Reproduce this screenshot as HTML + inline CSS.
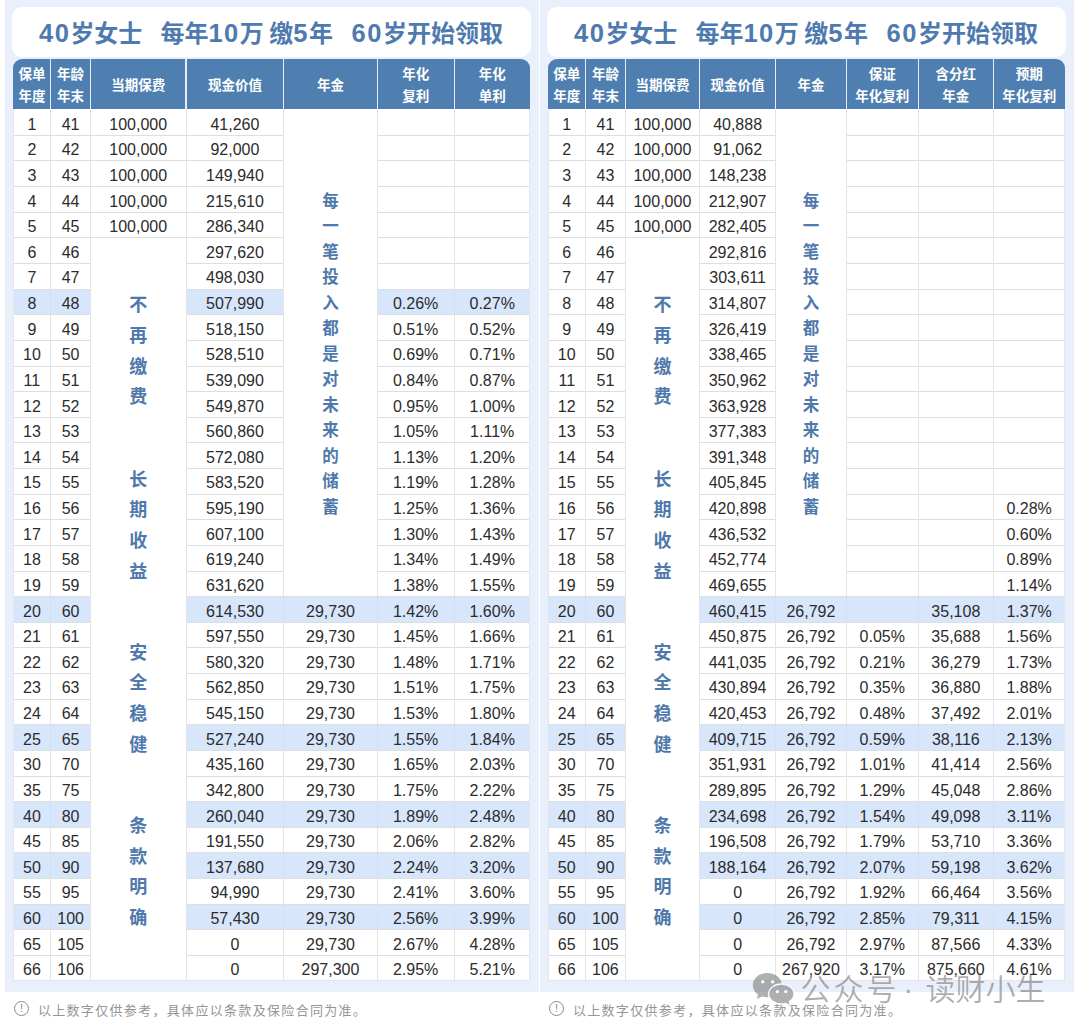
<!DOCTYPE html>
<html lang="zh-CN"><head><meta charset="utf-8"><title>40岁女士 每年10万 缴5年 60岁开始领取</title>
<style>
*{margin:0;padding:0;box-sizing:border-box}
html,body{width:1080px;height:1034px;overflow:hidden;background:#fff}
body{position:relative;font-family:"Liberation Sans","Noto Sans CJK SC",sans-serif;color:#2c2c2c}
.r{position:absolute}
.c{position:absolute;text-align:center;font-size:16px;white-space:nowrap;color:#2c2c2c}
.h{position:absolute;display:flex;align-items:center;justify-content:center;text-align:center;color:#fff;font-weight:700;font-size:13.5px;line-height:22px;padding-top:4.4px;font-family:"Liberation Sans","Noto Sans CJK SC",sans-serif}
.v{position:absolute;text-align:center;color:#4F78AB;font-weight:700;font-family:"Noto Sans CJK SC",sans-serif}
.t{position:absolute;color:#4E7AAF;font-weight:700;font-size:25.5px;line-height:36px;white-space:nowrap}
.t .d{letter-spacing:0.06em}
.t .k{font-size:24px;font-family:"Noto Sans CJK SC",sans-serif}
.fn{position:absolute;font-size:13px;letter-spacing:1.32px;line-height:20px;color:#959595;font-weight:400;white-space:nowrap}
.ic{position:absolute;width:15px;height:15px;border:1.2px solid #8a8a8a;border-radius:50%;font-size:11px;line-height:13px;text-align:center;color:#8a8a8a}
.wm{position:absolute}
.wt{position:absolute;font-size:30px;line-height:36px;color:rgba(120,120,120,0.6);font-family:"Noto Sans CJK SC",sans-serif;font-weight:350;white-space:nowrap}
</style></head>
<body>
<div class="r" style="left:5px;top:0px;width:534px;height:992px;background:#E9F0FC;"></div>
<div class="r" style="left:540px;top:0px;width:533.5px;height:992px;background:#E9F0FC;"></div>
<div class="r" style="left:12px;top:7px;width:519px;height:50px;background:#fff;border-radius:10px"></div>
<div class="t" style="left:38.95px;top:14px"><span class="d">40</span><span class="k">岁女士</span></div>
<div class="t" style="left:160.4px;top:14px"><span class="k">每年</span><span class="d">10</span><span class="k">万</span></div>
<div class="t" style="left:269.2px;top:14px"><span class="k">缴</span><span class="d">5</span><span class="k">年</span></div>
<div class="t" style="left:351.6px;top:14px"><span class="d">60</span><span class="k">岁开始领取</span></div>
<div class="r" style="left:547px;top:7px;width:519px;height:50px;background:#fff;border-radius:10px"></div>
<div class="t" style="left:573.95px;top:14px"><span class="d">40</span><span class="k">岁女士</span></div>
<div class="t" style="left:695.4px;top:14px"><span class="k">每年</span><span class="d">10</span><span class="k">万</span></div>
<div class="t" style="left:804.2px;top:14px"><span class="k">缴</span><span class="d">5</span><span class="k">年</span></div>
<div class="t" style="left:886.6px;top:14px"><span class="d">60</span><span class="k">岁开始领取</span></div>
<div class="r" style="left:13px;top:108.8px;width:517.2px;height:872.27px;background:#fff;"></div>
<div class="r" style="left:13px;top:59px;width:517.2px;height:49.8px;background:#4F7FB0;border-radius:9px 9px 0 0"></div>
<div class="h" style="left:13px;top:59px;width:37.8px;height:49.8px">保单<br>年度</div>
<div class="h" style="left:50.8px;top:59px;width:39.6px;height:49.8px">年龄<br>年末</div>
<div class="h" style="left:90.4px;top:59px;width:95.6px;height:49.8px">当期保费</div>
<div class="h" style="left:186px;top:59px;width:97.9px;height:49.8px">现金价值</div>
<div class="h" style="left:283.9px;top:59px;width:93.2px;height:49.8px">年金</div>
<div class="h" style="left:377.1px;top:59px;width:77.1px;height:49.8px">年化<br>复利</div>
<div class="h" style="left:454.2px;top:59px;width:76px;height:49.8px">年化<br>单利</div>
<div class="r" style="left:50.2px;top:59px;width:1.2px;height:49.8px;background:#E4ECF6;"></div>
<div class="r" style="left:89.8px;top:59px;width:1.2px;height:49.8px;background:#E4ECF6;"></div>
<div class="r" style="left:185.4px;top:59px;width:1.2px;height:49.8px;background:#E4ECF6;"></div>
<div class="r" style="left:283.3px;top:59px;width:1.2px;height:49.8px;background:#E4ECF6;"></div>
<div class="r" style="left:376.5px;top:59px;width:1.2px;height:49.8px;background:#E4ECF6;"></div>
<div class="r" style="left:453.6px;top:59px;width:1.2px;height:49.8px;background:#E4ECF6;"></div>
<div class="r" style="left:13px;top:134.85px;width:37.8px;height:1px;background:#DEDEDE;"></div>
<div class="r" style="left:50.8px;top:134.85px;width:39.6px;height:1px;background:#DEDEDE;"></div>
<div class="r" style="left:90.4px;top:134.85px;width:95.6px;height:1px;background:#DEDEDE;"></div>
<div class="r" style="left:186px;top:134.85px;width:97.9px;height:1px;background:#DEDEDE;"></div>
<div class="r" style="left:377.1px;top:134.85px;width:77.1px;height:1px;background:#DEDEDE;"></div>
<div class="r" style="left:454.2px;top:134.85px;width:76px;height:1px;background:#DEDEDE;"></div>
<div class="r" style="left:13px;top:160.48px;width:37.8px;height:1px;background:#DEDEDE;"></div>
<div class="r" style="left:50.8px;top:160.48px;width:39.6px;height:1px;background:#DEDEDE;"></div>
<div class="r" style="left:90.4px;top:160.48px;width:95.6px;height:1px;background:#DEDEDE;"></div>
<div class="r" style="left:186px;top:160.48px;width:97.9px;height:1px;background:#DEDEDE;"></div>
<div class="r" style="left:377.1px;top:160.48px;width:77.1px;height:1px;background:#DEDEDE;"></div>
<div class="r" style="left:454.2px;top:160.48px;width:76px;height:1px;background:#DEDEDE;"></div>
<div class="r" style="left:13px;top:186.1px;width:37.8px;height:1px;background:#DEDEDE;"></div>
<div class="r" style="left:50.8px;top:186.1px;width:39.6px;height:1px;background:#DEDEDE;"></div>
<div class="r" style="left:90.4px;top:186.1px;width:95.6px;height:1px;background:#DEDEDE;"></div>
<div class="r" style="left:186px;top:186.1px;width:97.9px;height:1px;background:#DEDEDE;"></div>
<div class="r" style="left:377.1px;top:186.1px;width:77.1px;height:1px;background:#DEDEDE;"></div>
<div class="r" style="left:454.2px;top:186.1px;width:76px;height:1px;background:#DEDEDE;"></div>
<div class="r" style="left:13px;top:211.73px;width:37.8px;height:1px;background:#DEDEDE;"></div>
<div class="r" style="left:50.8px;top:211.73px;width:39.6px;height:1px;background:#DEDEDE;"></div>
<div class="r" style="left:90.4px;top:211.73px;width:95.6px;height:1px;background:#DEDEDE;"></div>
<div class="r" style="left:186px;top:211.73px;width:97.9px;height:1px;background:#DEDEDE;"></div>
<div class="r" style="left:377.1px;top:211.73px;width:77.1px;height:1px;background:#DEDEDE;"></div>
<div class="r" style="left:454.2px;top:211.73px;width:76px;height:1px;background:#DEDEDE;"></div>
<div class="r" style="left:13px;top:237.36px;width:37.8px;height:1px;background:#DEDEDE;"></div>
<div class="r" style="left:50.8px;top:237.36px;width:39.6px;height:1px;background:#DEDEDE;"></div>
<div class="r" style="left:90.4px;top:237.36px;width:95.6px;height:1px;background:#DEDEDE;"></div>
<div class="r" style="left:186px;top:237.36px;width:97.9px;height:1px;background:#DEDEDE;"></div>
<div class="r" style="left:377.1px;top:237.36px;width:77.1px;height:1px;background:#DEDEDE;"></div>
<div class="r" style="left:454.2px;top:237.36px;width:76px;height:1px;background:#DEDEDE;"></div>
<div class="r" style="left:13px;top:262.99px;width:37.8px;height:1px;background:#DEDEDE;"></div>
<div class="r" style="left:50.8px;top:262.99px;width:39.6px;height:1px;background:#DEDEDE;"></div>
<div class="r" style="left:186px;top:262.99px;width:97.9px;height:1px;background:#DEDEDE;"></div>
<div class="r" style="left:377.1px;top:262.99px;width:77.1px;height:1px;background:#DEDEDE;"></div>
<div class="r" style="left:454.2px;top:262.99px;width:76px;height:1px;background:#DEDEDE;"></div>
<div class="r" style="left:13px;top:288.62px;width:37.8px;height:1px;background:#DEDEDE;"></div>
<div class="r" style="left:50.8px;top:288.62px;width:39.6px;height:1px;background:#DEDEDE;"></div>
<div class="r" style="left:186px;top:288.62px;width:97.9px;height:1px;background:#DEDEDE;"></div>
<div class="r" style="left:377.1px;top:288.62px;width:77.1px;height:1px;background:#DEDEDE;"></div>
<div class="r" style="left:454.2px;top:288.62px;width:76px;height:1px;background:#DEDEDE;"></div>
<div class="r" style="left:13px;top:314.24px;width:37.8px;height:1px;background:#DEDEDE;"></div>
<div class="r" style="left:50.8px;top:314.24px;width:39.6px;height:1px;background:#DEDEDE;"></div>
<div class="r" style="left:186px;top:314.24px;width:97.9px;height:1px;background:#DEDEDE;"></div>
<div class="r" style="left:377.1px;top:314.24px;width:77.1px;height:1px;background:#DEDEDE;"></div>
<div class="r" style="left:454.2px;top:314.24px;width:76px;height:1px;background:#DEDEDE;"></div>
<div class="r" style="left:13px;top:339.87px;width:37.8px;height:1px;background:#DEDEDE;"></div>
<div class="r" style="left:50.8px;top:339.87px;width:39.6px;height:1px;background:#DEDEDE;"></div>
<div class="r" style="left:186px;top:339.87px;width:97.9px;height:1px;background:#DEDEDE;"></div>
<div class="r" style="left:377.1px;top:339.87px;width:77.1px;height:1px;background:#DEDEDE;"></div>
<div class="r" style="left:454.2px;top:339.87px;width:76px;height:1px;background:#DEDEDE;"></div>
<div class="r" style="left:13px;top:365.5px;width:37.8px;height:1px;background:#DEDEDE;"></div>
<div class="r" style="left:50.8px;top:365.5px;width:39.6px;height:1px;background:#DEDEDE;"></div>
<div class="r" style="left:186px;top:365.5px;width:97.9px;height:1px;background:#DEDEDE;"></div>
<div class="r" style="left:377.1px;top:365.5px;width:77.1px;height:1px;background:#DEDEDE;"></div>
<div class="r" style="left:454.2px;top:365.5px;width:76px;height:1px;background:#DEDEDE;"></div>
<div class="r" style="left:13px;top:391.13px;width:37.8px;height:1px;background:#DEDEDE;"></div>
<div class="r" style="left:50.8px;top:391.13px;width:39.6px;height:1px;background:#DEDEDE;"></div>
<div class="r" style="left:186px;top:391.13px;width:97.9px;height:1px;background:#DEDEDE;"></div>
<div class="r" style="left:377.1px;top:391.13px;width:77.1px;height:1px;background:#DEDEDE;"></div>
<div class="r" style="left:454.2px;top:391.13px;width:76px;height:1px;background:#DEDEDE;"></div>
<div class="r" style="left:13px;top:416.76px;width:37.8px;height:1px;background:#DEDEDE;"></div>
<div class="r" style="left:50.8px;top:416.76px;width:39.6px;height:1px;background:#DEDEDE;"></div>
<div class="r" style="left:186px;top:416.76px;width:97.9px;height:1px;background:#DEDEDE;"></div>
<div class="r" style="left:377.1px;top:416.76px;width:77.1px;height:1px;background:#DEDEDE;"></div>
<div class="r" style="left:454.2px;top:416.76px;width:76px;height:1px;background:#DEDEDE;"></div>
<div class="r" style="left:13px;top:442.38px;width:37.8px;height:1px;background:#DEDEDE;"></div>
<div class="r" style="left:50.8px;top:442.38px;width:39.6px;height:1px;background:#DEDEDE;"></div>
<div class="r" style="left:186px;top:442.38px;width:97.9px;height:1px;background:#DEDEDE;"></div>
<div class="r" style="left:377.1px;top:442.38px;width:77.1px;height:1px;background:#DEDEDE;"></div>
<div class="r" style="left:454.2px;top:442.38px;width:76px;height:1px;background:#DEDEDE;"></div>
<div class="r" style="left:13px;top:468.01px;width:37.8px;height:1px;background:#DEDEDE;"></div>
<div class="r" style="left:50.8px;top:468.01px;width:39.6px;height:1px;background:#DEDEDE;"></div>
<div class="r" style="left:186px;top:468.01px;width:97.9px;height:1px;background:#DEDEDE;"></div>
<div class="r" style="left:377.1px;top:468.01px;width:77.1px;height:1px;background:#DEDEDE;"></div>
<div class="r" style="left:454.2px;top:468.01px;width:76px;height:1px;background:#DEDEDE;"></div>
<div class="r" style="left:13px;top:493.64px;width:37.8px;height:1px;background:#DEDEDE;"></div>
<div class="r" style="left:50.8px;top:493.64px;width:39.6px;height:1px;background:#DEDEDE;"></div>
<div class="r" style="left:186px;top:493.64px;width:97.9px;height:1px;background:#DEDEDE;"></div>
<div class="r" style="left:377.1px;top:493.64px;width:77.1px;height:1px;background:#DEDEDE;"></div>
<div class="r" style="left:454.2px;top:493.64px;width:76px;height:1px;background:#DEDEDE;"></div>
<div class="r" style="left:13px;top:519.27px;width:37.8px;height:1px;background:#DEDEDE;"></div>
<div class="r" style="left:50.8px;top:519.27px;width:39.6px;height:1px;background:#DEDEDE;"></div>
<div class="r" style="left:186px;top:519.27px;width:97.9px;height:1px;background:#DEDEDE;"></div>
<div class="r" style="left:377.1px;top:519.27px;width:77.1px;height:1px;background:#DEDEDE;"></div>
<div class="r" style="left:454.2px;top:519.27px;width:76px;height:1px;background:#DEDEDE;"></div>
<div class="r" style="left:13px;top:544.9px;width:37.8px;height:1px;background:#DEDEDE;"></div>
<div class="r" style="left:50.8px;top:544.9px;width:39.6px;height:1px;background:#DEDEDE;"></div>
<div class="r" style="left:186px;top:544.9px;width:97.9px;height:1px;background:#DEDEDE;"></div>
<div class="r" style="left:377.1px;top:544.9px;width:77.1px;height:1px;background:#DEDEDE;"></div>
<div class="r" style="left:454.2px;top:544.9px;width:76px;height:1px;background:#DEDEDE;"></div>
<div class="r" style="left:13px;top:570.52px;width:37.8px;height:1px;background:#DEDEDE;"></div>
<div class="r" style="left:50.8px;top:570.52px;width:39.6px;height:1px;background:#DEDEDE;"></div>
<div class="r" style="left:186px;top:570.52px;width:97.9px;height:1px;background:#DEDEDE;"></div>
<div class="r" style="left:377.1px;top:570.52px;width:77.1px;height:1px;background:#DEDEDE;"></div>
<div class="r" style="left:454.2px;top:570.52px;width:76px;height:1px;background:#DEDEDE;"></div>
<div class="r" style="left:13px;top:596.15px;width:37.8px;height:1px;background:#DEDEDE;"></div>
<div class="r" style="left:50.8px;top:596.15px;width:39.6px;height:1px;background:#DEDEDE;"></div>
<div class="r" style="left:186px;top:596.15px;width:97.9px;height:1px;background:#DEDEDE;"></div>
<div class="r" style="left:283.9px;top:596.15px;width:93.2px;height:1px;background:#DEDEDE;"></div>
<div class="r" style="left:377.1px;top:596.15px;width:77.1px;height:1px;background:#DEDEDE;"></div>
<div class="r" style="left:454.2px;top:596.15px;width:76px;height:1px;background:#DEDEDE;"></div>
<div class="r" style="left:13px;top:621.78px;width:37.8px;height:1px;background:#DEDEDE;"></div>
<div class="r" style="left:50.8px;top:621.78px;width:39.6px;height:1px;background:#DEDEDE;"></div>
<div class="r" style="left:186px;top:621.78px;width:97.9px;height:1px;background:#DEDEDE;"></div>
<div class="r" style="left:283.9px;top:621.78px;width:93.2px;height:1px;background:#DEDEDE;"></div>
<div class="r" style="left:377.1px;top:621.78px;width:77.1px;height:1px;background:#DEDEDE;"></div>
<div class="r" style="left:454.2px;top:621.78px;width:76px;height:1px;background:#DEDEDE;"></div>
<div class="r" style="left:13px;top:647.41px;width:37.8px;height:1px;background:#DEDEDE;"></div>
<div class="r" style="left:50.8px;top:647.41px;width:39.6px;height:1px;background:#DEDEDE;"></div>
<div class="r" style="left:186px;top:647.41px;width:97.9px;height:1px;background:#DEDEDE;"></div>
<div class="r" style="left:283.9px;top:647.41px;width:93.2px;height:1px;background:#DEDEDE;"></div>
<div class="r" style="left:377.1px;top:647.41px;width:77.1px;height:1px;background:#DEDEDE;"></div>
<div class="r" style="left:454.2px;top:647.41px;width:76px;height:1px;background:#DEDEDE;"></div>
<div class="r" style="left:13px;top:673.04px;width:37.8px;height:1px;background:#DEDEDE;"></div>
<div class="r" style="left:50.8px;top:673.04px;width:39.6px;height:1px;background:#DEDEDE;"></div>
<div class="r" style="left:186px;top:673.04px;width:97.9px;height:1px;background:#DEDEDE;"></div>
<div class="r" style="left:283.9px;top:673.04px;width:93.2px;height:1px;background:#DEDEDE;"></div>
<div class="r" style="left:377.1px;top:673.04px;width:77.1px;height:1px;background:#DEDEDE;"></div>
<div class="r" style="left:454.2px;top:673.04px;width:76px;height:1px;background:#DEDEDE;"></div>
<div class="r" style="left:13px;top:698.66px;width:37.8px;height:1px;background:#DEDEDE;"></div>
<div class="r" style="left:50.8px;top:698.66px;width:39.6px;height:1px;background:#DEDEDE;"></div>
<div class="r" style="left:186px;top:698.66px;width:97.9px;height:1px;background:#DEDEDE;"></div>
<div class="r" style="left:283.9px;top:698.66px;width:93.2px;height:1px;background:#DEDEDE;"></div>
<div class="r" style="left:377.1px;top:698.66px;width:77.1px;height:1px;background:#DEDEDE;"></div>
<div class="r" style="left:454.2px;top:698.66px;width:76px;height:1px;background:#DEDEDE;"></div>
<div class="r" style="left:13px;top:724.29px;width:37.8px;height:1px;background:#DEDEDE;"></div>
<div class="r" style="left:50.8px;top:724.29px;width:39.6px;height:1px;background:#DEDEDE;"></div>
<div class="r" style="left:186px;top:724.29px;width:97.9px;height:1px;background:#DEDEDE;"></div>
<div class="r" style="left:283.9px;top:724.29px;width:93.2px;height:1px;background:#DEDEDE;"></div>
<div class="r" style="left:377.1px;top:724.29px;width:77.1px;height:1px;background:#DEDEDE;"></div>
<div class="r" style="left:454.2px;top:724.29px;width:76px;height:1px;background:#DEDEDE;"></div>
<div class="r" style="left:13px;top:749.92px;width:37.8px;height:1px;background:#DEDEDE;"></div>
<div class="r" style="left:50.8px;top:749.92px;width:39.6px;height:1px;background:#DEDEDE;"></div>
<div class="r" style="left:186px;top:749.92px;width:97.9px;height:1px;background:#DEDEDE;"></div>
<div class="r" style="left:283.9px;top:749.92px;width:93.2px;height:1px;background:#DEDEDE;"></div>
<div class="r" style="left:377.1px;top:749.92px;width:77.1px;height:1px;background:#DEDEDE;"></div>
<div class="r" style="left:454.2px;top:749.92px;width:76px;height:1px;background:#DEDEDE;"></div>
<div class="r" style="left:13px;top:775.55px;width:37.8px;height:1px;background:#DEDEDE;"></div>
<div class="r" style="left:50.8px;top:775.55px;width:39.6px;height:1px;background:#DEDEDE;"></div>
<div class="r" style="left:186px;top:775.55px;width:97.9px;height:1px;background:#DEDEDE;"></div>
<div class="r" style="left:283.9px;top:775.55px;width:93.2px;height:1px;background:#DEDEDE;"></div>
<div class="r" style="left:377.1px;top:775.55px;width:77.1px;height:1px;background:#DEDEDE;"></div>
<div class="r" style="left:454.2px;top:775.55px;width:76px;height:1px;background:#DEDEDE;"></div>
<div class="r" style="left:13px;top:801.18px;width:37.8px;height:1px;background:#DEDEDE;"></div>
<div class="r" style="left:50.8px;top:801.18px;width:39.6px;height:1px;background:#DEDEDE;"></div>
<div class="r" style="left:186px;top:801.18px;width:97.9px;height:1px;background:#DEDEDE;"></div>
<div class="r" style="left:283.9px;top:801.18px;width:93.2px;height:1px;background:#DEDEDE;"></div>
<div class="r" style="left:377.1px;top:801.18px;width:77.1px;height:1px;background:#DEDEDE;"></div>
<div class="r" style="left:454.2px;top:801.18px;width:76px;height:1px;background:#DEDEDE;"></div>
<div class="r" style="left:13px;top:826.8px;width:37.8px;height:1px;background:#DEDEDE;"></div>
<div class="r" style="left:50.8px;top:826.8px;width:39.6px;height:1px;background:#DEDEDE;"></div>
<div class="r" style="left:186px;top:826.8px;width:97.9px;height:1px;background:#DEDEDE;"></div>
<div class="r" style="left:283.9px;top:826.8px;width:93.2px;height:1px;background:#DEDEDE;"></div>
<div class="r" style="left:377.1px;top:826.8px;width:77.1px;height:1px;background:#DEDEDE;"></div>
<div class="r" style="left:454.2px;top:826.8px;width:76px;height:1px;background:#DEDEDE;"></div>
<div class="r" style="left:13px;top:852.43px;width:37.8px;height:1px;background:#DEDEDE;"></div>
<div class="r" style="left:50.8px;top:852.43px;width:39.6px;height:1px;background:#DEDEDE;"></div>
<div class="r" style="left:186px;top:852.43px;width:97.9px;height:1px;background:#DEDEDE;"></div>
<div class="r" style="left:283.9px;top:852.43px;width:93.2px;height:1px;background:#DEDEDE;"></div>
<div class="r" style="left:377.1px;top:852.43px;width:77.1px;height:1px;background:#DEDEDE;"></div>
<div class="r" style="left:454.2px;top:852.43px;width:76px;height:1px;background:#DEDEDE;"></div>
<div class="r" style="left:13px;top:878.06px;width:37.8px;height:1px;background:#DEDEDE;"></div>
<div class="r" style="left:50.8px;top:878.06px;width:39.6px;height:1px;background:#DEDEDE;"></div>
<div class="r" style="left:186px;top:878.06px;width:97.9px;height:1px;background:#DEDEDE;"></div>
<div class="r" style="left:283.9px;top:878.06px;width:93.2px;height:1px;background:#DEDEDE;"></div>
<div class="r" style="left:377.1px;top:878.06px;width:77.1px;height:1px;background:#DEDEDE;"></div>
<div class="r" style="left:454.2px;top:878.06px;width:76px;height:1px;background:#DEDEDE;"></div>
<div class="r" style="left:13px;top:903.69px;width:37.8px;height:1px;background:#DEDEDE;"></div>
<div class="r" style="left:50.8px;top:903.69px;width:39.6px;height:1px;background:#DEDEDE;"></div>
<div class="r" style="left:186px;top:903.69px;width:97.9px;height:1px;background:#DEDEDE;"></div>
<div class="r" style="left:283.9px;top:903.69px;width:93.2px;height:1px;background:#DEDEDE;"></div>
<div class="r" style="left:377.1px;top:903.69px;width:77.1px;height:1px;background:#DEDEDE;"></div>
<div class="r" style="left:454.2px;top:903.69px;width:76px;height:1px;background:#DEDEDE;"></div>
<div class="r" style="left:13px;top:929.32px;width:37.8px;height:1px;background:#DEDEDE;"></div>
<div class="r" style="left:50.8px;top:929.32px;width:39.6px;height:1px;background:#DEDEDE;"></div>
<div class="r" style="left:186px;top:929.32px;width:97.9px;height:1px;background:#DEDEDE;"></div>
<div class="r" style="left:283.9px;top:929.32px;width:93.2px;height:1px;background:#DEDEDE;"></div>
<div class="r" style="left:377.1px;top:929.32px;width:77.1px;height:1px;background:#DEDEDE;"></div>
<div class="r" style="left:454.2px;top:929.32px;width:76px;height:1px;background:#DEDEDE;"></div>
<div class="r" style="left:13px;top:954.94px;width:37.8px;height:1px;background:#DEDEDE;"></div>
<div class="r" style="left:50.8px;top:954.94px;width:39.6px;height:1px;background:#DEDEDE;"></div>
<div class="r" style="left:186px;top:954.94px;width:97.9px;height:1px;background:#DEDEDE;"></div>
<div class="r" style="left:283.9px;top:954.94px;width:93.2px;height:1px;background:#DEDEDE;"></div>
<div class="r" style="left:377.1px;top:954.94px;width:77.1px;height:1px;background:#DEDEDE;"></div>
<div class="r" style="left:454.2px;top:954.94px;width:76px;height:1px;background:#DEDEDE;"></div>
<div class="r" style="left:50.3px;top:108.8px;width:1px;height:872.27px;background:#E4E4E4;"></div>
<div class="r" style="left:89.9px;top:108.8px;width:1px;height:872.27px;background:#E4E4E4;"></div>
<div class="r" style="left:185.5px;top:108.8px;width:1px;height:872.27px;background:#E4E4E4;"></div>
<div class="r" style="left:283.4px;top:108.8px;width:1px;height:872.27px;background:#E4E4E4;"></div>
<div class="r" style="left:376.6px;top:108.8px;width:1px;height:872.27px;background:#E4E4E4;"></div>
<div class="r" style="left:453.7px;top:108.8px;width:1px;height:872.27px;background:#E4E4E4;"></div>
<div class="r" style="left:14px;top:289.62px;width:75.9px;height:24.63px;background:#D7E6FB;"></div>
<div class="r" style="left:50.3px;top:289.62px;width:1px;height:24.63px;background:#D3E1F5;"></div>
<div class="r" style="left:186.5px;top:289.62px;width:96.9px;height:24.63px;background:#D7E6FB;"></div>
<div class="r" style="left:377.6px;top:289.62px;width:151.6px;height:24.63px;background:#D7E6FB;"></div>
<div class="r" style="left:453.7px;top:289.62px;width:1px;height:24.63px;background:#D3E1F5;"></div>
<div class="r" style="left:14px;top:597.15px;width:75.9px;height:24.63px;background:#D7E6FB;"></div>
<div class="r" style="left:50.3px;top:597.15px;width:1px;height:24.63px;background:#D3E1F5;"></div>
<div class="r" style="left:186.5px;top:597.15px;width:342.7px;height:24.63px;background:#D7E6FB;"></div>
<div class="r" style="left:283.4px;top:597.15px;width:1px;height:24.63px;background:#D3E1F5;"></div>
<div class="r" style="left:376.6px;top:597.15px;width:1px;height:24.63px;background:#D3E1F5;"></div>
<div class="r" style="left:453.7px;top:597.15px;width:1px;height:24.63px;background:#D3E1F5;"></div>
<div class="r" style="left:14px;top:725.29px;width:75.9px;height:24.63px;background:#D7E6FB;"></div>
<div class="r" style="left:50.3px;top:725.29px;width:1px;height:24.63px;background:#D3E1F5;"></div>
<div class="r" style="left:186.5px;top:725.29px;width:342.7px;height:24.63px;background:#D7E6FB;"></div>
<div class="r" style="left:283.4px;top:725.29px;width:1px;height:24.63px;background:#D3E1F5;"></div>
<div class="r" style="left:376.6px;top:725.29px;width:1px;height:24.63px;background:#D3E1F5;"></div>
<div class="r" style="left:453.7px;top:725.29px;width:1px;height:24.63px;background:#D3E1F5;"></div>
<div class="r" style="left:14px;top:802.18px;width:75.9px;height:24.63px;background:#D7E6FB;"></div>
<div class="r" style="left:50.3px;top:802.18px;width:1px;height:24.63px;background:#D3E1F5;"></div>
<div class="r" style="left:186.5px;top:802.18px;width:342.7px;height:24.63px;background:#D7E6FB;"></div>
<div class="r" style="left:283.4px;top:802.18px;width:1px;height:24.63px;background:#D3E1F5;"></div>
<div class="r" style="left:376.6px;top:802.18px;width:1px;height:24.63px;background:#D3E1F5;"></div>
<div class="r" style="left:453.7px;top:802.18px;width:1px;height:24.63px;background:#D3E1F5;"></div>
<div class="r" style="left:14px;top:853.43px;width:75.9px;height:24.63px;background:#D7E6FB;"></div>
<div class="r" style="left:50.3px;top:853.43px;width:1px;height:24.63px;background:#D3E1F5;"></div>
<div class="r" style="left:186.5px;top:853.43px;width:342.7px;height:24.63px;background:#D7E6FB;"></div>
<div class="r" style="left:283.4px;top:853.43px;width:1px;height:24.63px;background:#D3E1F5;"></div>
<div class="r" style="left:376.6px;top:853.43px;width:1px;height:24.63px;background:#D3E1F5;"></div>
<div class="r" style="left:453.7px;top:853.43px;width:1px;height:24.63px;background:#D3E1F5;"></div>
<div class="r" style="left:14px;top:904.69px;width:75.9px;height:24.63px;background:#D7E6FB;"></div>
<div class="r" style="left:50.3px;top:904.69px;width:1px;height:24.63px;background:#D3E1F5;"></div>
<div class="r" style="left:186.5px;top:904.69px;width:342.7px;height:24.63px;background:#D7E6FB;"></div>
<div class="r" style="left:283.4px;top:904.69px;width:1px;height:24.63px;background:#D3E1F5;"></div>
<div class="r" style="left:376.6px;top:904.69px;width:1px;height:24.63px;background:#D3E1F5;"></div>
<div class="r" style="left:453.7px;top:904.69px;width:1px;height:24.63px;background:#D3E1F5;"></div>
<div class="r" style="left:13px;top:108.8px;width:1px;height:872.27px;background:#E2E5EA;"></div>
<div class="r" style="left:529.2px;top:108.8px;width:1px;height:872.27px;background:#E2E5EA;"></div>
<div class="r" style="left:13px;top:980.37px;width:517.2px;height:1px;background:#E2E5EA;"></div>
<div class="c" style="left:13px;top:111.62px;width:37.8px;height:25.67px;line-height:25.67px">1</div>
<div class="c" style="left:50.8px;top:111.62px;width:39.6px;height:25.67px;line-height:25.67px">41</div>
<div class="c" style="left:90.4px;top:111.62px;width:95.6px;height:25.67px;line-height:25.67px">100,000</div>
<div class="c" style="left:186px;top:111.62px;width:97.9px;height:25.67px;line-height:25.67px">41,260</div>
<div class="c" style="left:13px;top:137.25px;width:37.8px;height:25.67px;line-height:25.67px">2</div>
<div class="c" style="left:50.8px;top:137.25px;width:39.6px;height:25.67px;line-height:25.67px">42</div>
<div class="c" style="left:90.4px;top:137.25px;width:95.6px;height:25.67px;line-height:25.67px">100,000</div>
<div class="c" style="left:186px;top:137.25px;width:97.9px;height:25.67px;line-height:25.67px">92,000</div>
<div class="c" style="left:13px;top:162.88px;width:37.8px;height:25.67px;line-height:25.67px">3</div>
<div class="c" style="left:50.8px;top:162.88px;width:39.6px;height:25.67px;line-height:25.67px">43</div>
<div class="c" style="left:90.4px;top:162.88px;width:95.6px;height:25.67px;line-height:25.67px">100,000</div>
<div class="c" style="left:186px;top:162.88px;width:97.9px;height:25.67px;line-height:25.67px">149,940</div>
<div class="c" style="left:13px;top:188.5px;width:37.8px;height:25.67px;line-height:25.67px">4</div>
<div class="c" style="left:50.8px;top:188.5px;width:39.6px;height:25.67px;line-height:25.67px">44</div>
<div class="c" style="left:90.4px;top:188.5px;width:95.6px;height:25.67px;line-height:25.67px">100,000</div>
<div class="c" style="left:186px;top:188.5px;width:97.9px;height:25.67px;line-height:25.67px">215,610</div>
<div class="c" style="left:13px;top:214.13px;width:37.8px;height:25.67px;line-height:25.67px">5</div>
<div class="c" style="left:50.8px;top:214.13px;width:39.6px;height:25.67px;line-height:25.67px">45</div>
<div class="c" style="left:90.4px;top:214.13px;width:95.6px;height:25.67px;line-height:25.67px">100,000</div>
<div class="c" style="left:186px;top:214.13px;width:97.9px;height:25.67px;line-height:25.67px">286,340</div>
<div class="c" style="left:13px;top:239.76px;width:37.8px;height:25.67px;line-height:25.67px">6</div>
<div class="c" style="left:50.8px;top:239.76px;width:39.6px;height:25.67px;line-height:25.67px">46</div>
<div class="c" style="left:186px;top:239.76px;width:97.9px;height:25.67px;line-height:25.67px">297,620</div>
<div class="c" style="left:13px;top:265.39px;width:37.8px;height:25.67px;line-height:25.67px">7</div>
<div class="c" style="left:50.8px;top:265.39px;width:39.6px;height:25.67px;line-height:25.67px">47</div>
<div class="c" style="left:186px;top:265.39px;width:97.9px;height:25.67px;line-height:25.67px">498,030</div>
<div class="c" style="left:13px;top:291.02px;width:37.8px;height:25.67px;line-height:25.67px">8</div>
<div class="c" style="left:50.8px;top:291.02px;width:39.6px;height:25.67px;line-height:25.67px">48</div>
<div class="c" style="left:186px;top:291.02px;width:97.9px;height:25.67px;line-height:25.67px">507,990</div>
<div class="c" style="left:377.1px;top:291.02px;width:77.1px;height:25.67px;line-height:25.67px">0.26%</div>
<div class="c" style="left:454.2px;top:291.02px;width:76px;height:25.67px;line-height:25.67px">0.27%</div>
<div class="c" style="left:13px;top:316.64px;width:37.8px;height:25.67px;line-height:25.67px">9</div>
<div class="c" style="left:50.8px;top:316.64px;width:39.6px;height:25.67px;line-height:25.67px">49</div>
<div class="c" style="left:186px;top:316.64px;width:97.9px;height:25.67px;line-height:25.67px">518,150</div>
<div class="c" style="left:377.1px;top:316.64px;width:77.1px;height:25.67px;line-height:25.67px">0.51%</div>
<div class="c" style="left:454.2px;top:316.64px;width:76px;height:25.67px;line-height:25.67px">0.52%</div>
<div class="c" style="left:13px;top:342.27px;width:37.8px;height:25.67px;line-height:25.67px">10</div>
<div class="c" style="left:50.8px;top:342.27px;width:39.6px;height:25.67px;line-height:25.67px">50</div>
<div class="c" style="left:186px;top:342.27px;width:97.9px;height:25.67px;line-height:25.67px">528,510</div>
<div class="c" style="left:377.1px;top:342.27px;width:77.1px;height:25.67px;line-height:25.67px">0.69%</div>
<div class="c" style="left:454.2px;top:342.27px;width:76px;height:25.67px;line-height:25.67px">0.71%</div>
<div class="c" style="left:13px;top:367.9px;width:37.8px;height:25.67px;line-height:25.67px">11</div>
<div class="c" style="left:50.8px;top:367.9px;width:39.6px;height:25.67px;line-height:25.67px">51</div>
<div class="c" style="left:186px;top:367.9px;width:97.9px;height:25.67px;line-height:25.67px">539,090</div>
<div class="c" style="left:377.1px;top:367.9px;width:77.1px;height:25.67px;line-height:25.67px">0.84%</div>
<div class="c" style="left:454.2px;top:367.9px;width:76px;height:25.67px;line-height:25.67px">0.87%</div>
<div class="c" style="left:13px;top:393.53px;width:37.8px;height:25.67px;line-height:25.67px">12</div>
<div class="c" style="left:50.8px;top:393.53px;width:39.6px;height:25.67px;line-height:25.67px">52</div>
<div class="c" style="left:186px;top:393.53px;width:97.9px;height:25.67px;line-height:25.67px">549,870</div>
<div class="c" style="left:377.1px;top:393.53px;width:77.1px;height:25.67px;line-height:25.67px">0.95%</div>
<div class="c" style="left:454.2px;top:393.53px;width:76px;height:25.67px;line-height:25.67px">1.00%</div>
<div class="c" style="left:13px;top:419.16px;width:37.8px;height:25.67px;line-height:25.67px">13</div>
<div class="c" style="left:50.8px;top:419.16px;width:39.6px;height:25.67px;line-height:25.67px">53</div>
<div class="c" style="left:186px;top:419.16px;width:97.9px;height:25.67px;line-height:25.67px">560,860</div>
<div class="c" style="left:377.1px;top:419.16px;width:77.1px;height:25.67px;line-height:25.67px">1.05%</div>
<div class="c" style="left:454.2px;top:419.16px;width:76px;height:25.67px;line-height:25.67px">1.11%</div>
<div class="c" style="left:13px;top:444.78px;width:37.8px;height:25.67px;line-height:25.67px">14</div>
<div class="c" style="left:50.8px;top:444.78px;width:39.6px;height:25.67px;line-height:25.67px">54</div>
<div class="c" style="left:186px;top:444.78px;width:97.9px;height:25.67px;line-height:25.67px">572,080</div>
<div class="c" style="left:377.1px;top:444.78px;width:77.1px;height:25.67px;line-height:25.67px">1.13%</div>
<div class="c" style="left:454.2px;top:444.78px;width:76px;height:25.67px;line-height:25.67px">1.20%</div>
<div class="c" style="left:13px;top:470.41px;width:37.8px;height:25.67px;line-height:25.67px">15</div>
<div class="c" style="left:50.8px;top:470.41px;width:39.6px;height:25.67px;line-height:25.67px">55</div>
<div class="c" style="left:186px;top:470.41px;width:97.9px;height:25.67px;line-height:25.67px">583,520</div>
<div class="c" style="left:377.1px;top:470.41px;width:77.1px;height:25.67px;line-height:25.67px">1.19%</div>
<div class="c" style="left:454.2px;top:470.41px;width:76px;height:25.67px;line-height:25.67px">1.28%</div>
<div class="c" style="left:13px;top:496.04px;width:37.8px;height:25.67px;line-height:25.67px">16</div>
<div class="c" style="left:50.8px;top:496.04px;width:39.6px;height:25.67px;line-height:25.67px">56</div>
<div class="c" style="left:186px;top:496.04px;width:97.9px;height:25.67px;line-height:25.67px">595,190</div>
<div class="c" style="left:377.1px;top:496.04px;width:77.1px;height:25.67px;line-height:25.67px">1.25%</div>
<div class="c" style="left:454.2px;top:496.04px;width:76px;height:25.67px;line-height:25.67px">1.36%</div>
<div class="c" style="left:13px;top:521.67px;width:37.8px;height:25.67px;line-height:25.67px">17</div>
<div class="c" style="left:50.8px;top:521.67px;width:39.6px;height:25.67px;line-height:25.67px">57</div>
<div class="c" style="left:186px;top:521.67px;width:97.9px;height:25.67px;line-height:25.67px">607,100</div>
<div class="c" style="left:377.1px;top:521.67px;width:77.1px;height:25.67px;line-height:25.67px">1.30%</div>
<div class="c" style="left:454.2px;top:521.67px;width:76px;height:25.67px;line-height:25.67px">1.43%</div>
<div class="c" style="left:13px;top:547.3px;width:37.8px;height:25.67px;line-height:25.67px">18</div>
<div class="c" style="left:50.8px;top:547.3px;width:39.6px;height:25.67px;line-height:25.67px">58</div>
<div class="c" style="left:186px;top:547.3px;width:97.9px;height:25.67px;line-height:25.67px">619,240</div>
<div class="c" style="left:377.1px;top:547.3px;width:77.1px;height:25.67px;line-height:25.67px">1.34%</div>
<div class="c" style="left:454.2px;top:547.3px;width:76px;height:25.67px;line-height:25.67px">1.49%</div>
<div class="c" style="left:13px;top:572.92px;width:37.8px;height:25.67px;line-height:25.67px">19</div>
<div class="c" style="left:50.8px;top:572.92px;width:39.6px;height:25.67px;line-height:25.67px">59</div>
<div class="c" style="left:186px;top:572.92px;width:97.9px;height:25.67px;line-height:25.67px">631,620</div>
<div class="c" style="left:377.1px;top:572.92px;width:77.1px;height:25.67px;line-height:25.67px">1.38%</div>
<div class="c" style="left:454.2px;top:572.92px;width:76px;height:25.67px;line-height:25.67px">1.55%</div>
<div class="c" style="left:13px;top:598.55px;width:37.8px;height:25.67px;line-height:25.67px">20</div>
<div class="c" style="left:50.8px;top:598.55px;width:39.6px;height:25.67px;line-height:25.67px">60</div>
<div class="c" style="left:186px;top:598.55px;width:97.9px;height:25.67px;line-height:25.67px">614,530</div>
<div class="c" style="left:283.9px;top:598.55px;width:93.2px;height:25.67px;line-height:25.67px">29,730</div>
<div class="c" style="left:377.1px;top:598.55px;width:77.1px;height:25.67px;line-height:25.67px">1.42%</div>
<div class="c" style="left:454.2px;top:598.55px;width:76px;height:25.67px;line-height:25.67px">1.60%</div>
<div class="c" style="left:13px;top:624.18px;width:37.8px;height:25.67px;line-height:25.67px">21</div>
<div class="c" style="left:50.8px;top:624.18px;width:39.6px;height:25.67px;line-height:25.67px">61</div>
<div class="c" style="left:186px;top:624.18px;width:97.9px;height:25.67px;line-height:25.67px">597,550</div>
<div class="c" style="left:283.9px;top:624.18px;width:93.2px;height:25.67px;line-height:25.67px">29,730</div>
<div class="c" style="left:377.1px;top:624.18px;width:77.1px;height:25.67px;line-height:25.67px">1.45%</div>
<div class="c" style="left:454.2px;top:624.18px;width:76px;height:25.67px;line-height:25.67px">1.66%</div>
<div class="c" style="left:13px;top:649.81px;width:37.8px;height:25.67px;line-height:25.67px">22</div>
<div class="c" style="left:50.8px;top:649.81px;width:39.6px;height:25.67px;line-height:25.67px">62</div>
<div class="c" style="left:186px;top:649.81px;width:97.9px;height:25.67px;line-height:25.67px">580,320</div>
<div class="c" style="left:283.9px;top:649.81px;width:93.2px;height:25.67px;line-height:25.67px">29,730</div>
<div class="c" style="left:377.1px;top:649.81px;width:77.1px;height:25.67px;line-height:25.67px">1.48%</div>
<div class="c" style="left:454.2px;top:649.81px;width:76px;height:25.67px;line-height:25.67px">1.71%</div>
<div class="c" style="left:13px;top:675.44px;width:37.8px;height:25.67px;line-height:25.67px">23</div>
<div class="c" style="left:50.8px;top:675.44px;width:39.6px;height:25.67px;line-height:25.67px">63</div>
<div class="c" style="left:186px;top:675.44px;width:97.9px;height:25.67px;line-height:25.67px">562,850</div>
<div class="c" style="left:283.9px;top:675.44px;width:93.2px;height:25.67px;line-height:25.67px">29,730</div>
<div class="c" style="left:377.1px;top:675.44px;width:77.1px;height:25.67px;line-height:25.67px">1.51%</div>
<div class="c" style="left:454.2px;top:675.44px;width:76px;height:25.67px;line-height:25.67px">1.75%</div>
<div class="c" style="left:13px;top:701.06px;width:37.8px;height:25.67px;line-height:25.67px">24</div>
<div class="c" style="left:50.8px;top:701.06px;width:39.6px;height:25.67px;line-height:25.67px">64</div>
<div class="c" style="left:186px;top:701.06px;width:97.9px;height:25.67px;line-height:25.67px">545,150</div>
<div class="c" style="left:283.9px;top:701.06px;width:93.2px;height:25.67px;line-height:25.67px">29,730</div>
<div class="c" style="left:377.1px;top:701.06px;width:77.1px;height:25.67px;line-height:25.67px">1.53%</div>
<div class="c" style="left:454.2px;top:701.06px;width:76px;height:25.67px;line-height:25.67px">1.80%</div>
<div class="c" style="left:13px;top:726.69px;width:37.8px;height:25.67px;line-height:25.67px">25</div>
<div class="c" style="left:50.8px;top:726.69px;width:39.6px;height:25.67px;line-height:25.67px">65</div>
<div class="c" style="left:186px;top:726.69px;width:97.9px;height:25.67px;line-height:25.67px">527,240</div>
<div class="c" style="left:283.9px;top:726.69px;width:93.2px;height:25.67px;line-height:25.67px">29,730</div>
<div class="c" style="left:377.1px;top:726.69px;width:77.1px;height:25.67px;line-height:25.67px">1.55%</div>
<div class="c" style="left:454.2px;top:726.69px;width:76px;height:25.67px;line-height:25.67px">1.84%</div>
<div class="c" style="left:13px;top:752.32px;width:37.8px;height:25.67px;line-height:25.67px">30</div>
<div class="c" style="left:50.8px;top:752.32px;width:39.6px;height:25.67px;line-height:25.67px">70</div>
<div class="c" style="left:186px;top:752.32px;width:97.9px;height:25.67px;line-height:25.67px">435,160</div>
<div class="c" style="left:283.9px;top:752.32px;width:93.2px;height:25.67px;line-height:25.67px">29,730</div>
<div class="c" style="left:377.1px;top:752.32px;width:77.1px;height:25.67px;line-height:25.67px">1.65%</div>
<div class="c" style="left:454.2px;top:752.32px;width:76px;height:25.67px;line-height:25.67px">2.03%</div>
<div class="c" style="left:13px;top:777.95px;width:37.8px;height:25.67px;line-height:25.67px">35</div>
<div class="c" style="left:50.8px;top:777.95px;width:39.6px;height:25.67px;line-height:25.67px">75</div>
<div class="c" style="left:186px;top:777.95px;width:97.9px;height:25.67px;line-height:25.67px">342,800</div>
<div class="c" style="left:283.9px;top:777.95px;width:93.2px;height:25.67px;line-height:25.67px">29,730</div>
<div class="c" style="left:377.1px;top:777.95px;width:77.1px;height:25.67px;line-height:25.67px">1.75%</div>
<div class="c" style="left:454.2px;top:777.95px;width:76px;height:25.67px;line-height:25.67px">2.22%</div>
<div class="c" style="left:13px;top:803.58px;width:37.8px;height:25.67px;line-height:25.67px">40</div>
<div class="c" style="left:50.8px;top:803.58px;width:39.6px;height:25.67px;line-height:25.67px">80</div>
<div class="c" style="left:186px;top:803.58px;width:97.9px;height:25.67px;line-height:25.67px">260,040</div>
<div class="c" style="left:283.9px;top:803.58px;width:93.2px;height:25.67px;line-height:25.67px">29,730</div>
<div class="c" style="left:377.1px;top:803.58px;width:77.1px;height:25.67px;line-height:25.67px">1.89%</div>
<div class="c" style="left:454.2px;top:803.58px;width:76px;height:25.67px;line-height:25.67px">2.48%</div>
<div class="c" style="left:13px;top:829.2px;width:37.8px;height:25.67px;line-height:25.67px">45</div>
<div class="c" style="left:50.8px;top:829.2px;width:39.6px;height:25.67px;line-height:25.67px">85</div>
<div class="c" style="left:186px;top:829.2px;width:97.9px;height:25.67px;line-height:25.67px">191,550</div>
<div class="c" style="left:283.9px;top:829.2px;width:93.2px;height:25.67px;line-height:25.67px">29,730</div>
<div class="c" style="left:377.1px;top:829.2px;width:77.1px;height:25.67px;line-height:25.67px">2.06%</div>
<div class="c" style="left:454.2px;top:829.2px;width:76px;height:25.67px;line-height:25.67px">2.82%</div>
<div class="c" style="left:13px;top:854.83px;width:37.8px;height:25.67px;line-height:25.67px">50</div>
<div class="c" style="left:50.8px;top:854.83px;width:39.6px;height:25.67px;line-height:25.67px">90</div>
<div class="c" style="left:186px;top:854.83px;width:97.9px;height:25.67px;line-height:25.67px">137,680</div>
<div class="c" style="left:283.9px;top:854.83px;width:93.2px;height:25.67px;line-height:25.67px">29,730</div>
<div class="c" style="left:377.1px;top:854.83px;width:77.1px;height:25.67px;line-height:25.67px">2.24%</div>
<div class="c" style="left:454.2px;top:854.83px;width:76px;height:25.67px;line-height:25.67px">3.20%</div>
<div class="c" style="left:13px;top:880.46px;width:37.8px;height:25.67px;line-height:25.67px">55</div>
<div class="c" style="left:50.8px;top:880.46px;width:39.6px;height:25.67px;line-height:25.67px">95</div>
<div class="c" style="left:186px;top:880.46px;width:97.9px;height:25.67px;line-height:25.67px">94,990</div>
<div class="c" style="left:283.9px;top:880.46px;width:93.2px;height:25.67px;line-height:25.67px">29,730</div>
<div class="c" style="left:377.1px;top:880.46px;width:77.1px;height:25.67px;line-height:25.67px">2.41%</div>
<div class="c" style="left:454.2px;top:880.46px;width:76px;height:25.67px;line-height:25.67px">3.60%</div>
<div class="c" style="left:13px;top:906.09px;width:37.8px;height:25.67px;line-height:25.67px">60</div>
<div class="c" style="left:50.8px;top:906.09px;width:39.6px;height:25.67px;line-height:25.67px">100</div>
<div class="c" style="left:186px;top:906.09px;width:97.9px;height:25.67px;line-height:25.67px">57,430</div>
<div class="c" style="left:283.9px;top:906.09px;width:93.2px;height:25.67px;line-height:25.67px">29,730</div>
<div class="c" style="left:377.1px;top:906.09px;width:77.1px;height:25.67px;line-height:25.67px">2.56%</div>
<div class="c" style="left:454.2px;top:906.09px;width:76px;height:25.67px;line-height:25.67px">3.99%</div>
<div class="c" style="left:13px;top:931.72px;width:37.8px;height:25.67px;line-height:25.67px">65</div>
<div class="c" style="left:50.8px;top:931.72px;width:39.6px;height:25.67px;line-height:25.67px">105</div>
<div class="c" style="left:186px;top:931.72px;width:97.9px;height:25.67px;line-height:25.67px">0</div>
<div class="c" style="left:283.9px;top:931.72px;width:93.2px;height:25.67px;line-height:25.67px">29,730</div>
<div class="c" style="left:377.1px;top:931.72px;width:77.1px;height:25.67px;line-height:25.67px">2.67%</div>
<div class="c" style="left:454.2px;top:931.72px;width:76px;height:25.67px;line-height:25.67px">4.28%</div>
<div class="c" style="left:13px;top:957.34px;width:37.8px;height:25.67px;line-height:25.67px">66</div>
<div class="c" style="left:50.8px;top:957.34px;width:39.6px;height:25.67px;line-height:25.67px">106</div>
<div class="c" style="left:186px;top:957.34px;width:97.9px;height:25.67px;line-height:25.67px">0</div>
<div class="c" style="left:283.9px;top:957.34px;width:93.2px;height:25.67px;line-height:25.67px">297,300</div>
<div class="c" style="left:377.1px;top:957.34px;width:77.1px;height:25.67px;line-height:25.67px">2.95%</div>
<div class="c" style="left:454.2px;top:957.34px;width:76px;height:25.67px;line-height:25.67px">5.21%</div>
<div class="v" style="left:90.4px;top:288.3px;width:95.6px;line-height:30.7px;font-size:18px">不<br>再<br>缴<br>费</div>
<div class="v" style="left:90.4px;top:462.5px;width:95.6px;line-height:30.7px;font-size:18px">长<br>期<br>收<br>益</div>
<div class="v" style="left:90.4px;top:635.65px;width:95.6px;line-height:30.7px;font-size:18px">安<br>全<br>稳<br>健</div>
<div class="v" style="left:90.4px;top:809.05px;width:95.6px;line-height:30.7px;font-size:18px">条<br>款<br>明<br>确</div>
<div class="v" style="left:283.9px;top:188px;width:93.2px;line-height:25.47px;font-size:16.5px">每<br>一<br>笔<br>投<br>入<br>都<br>是<br>对<br>未<br>来<br>的<br>储<br>蓄</div>
<div class="r" style="left:548px;top:108.8px;width:517px;height:872.27px;background:#fff;"></div>
<div class="r" style="left:548px;top:59px;width:517px;height:49.8px;background:#4F7FB0;border-radius:9px 9px 0 0"></div>
<div class="h" style="left:548px;top:59px;width:37.5px;height:49.8px">保单<br>年度</div>
<div class="h" style="left:585.5px;top:59px;width:39.8px;height:49.8px">年龄<br>年末</div>
<div class="h" style="left:625.3px;top:59px;width:74.2px;height:49.8px">当期保费</div>
<div class="h" style="left:699.5px;top:59px;width:76.2px;height:49.8px">现金价值</div>
<div class="h" style="left:775.7px;top:59px;width:70.5px;height:49.8px">年金</div>
<div class="h" style="left:846.2px;top:59px;width:72.2px;height:49.8px">保证<br>年化复利</div>
<div class="h" style="left:918.4px;top:59px;width:74.9px;height:49.8px">含分红<br>年金</div>
<div class="h" style="left:993.3px;top:59px;width:71.7px;height:49.8px">预期<br>年化复利</div>
<div class="r" style="left:584.9px;top:59px;width:1.2px;height:49.8px;background:#E4ECF6;"></div>
<div class="r" style="left:624.7px;top:59px;width:1.2px;height:49.8px;background:#E4ECF6;"></div>
<div class="r" style="left:698.9px;top:59px;width:1.2px;height:49.8px;background:#E4ECF6;"></div>
<div class="r" style="left:775.1px;top:59px;width:1.2px;height:49.8px;background:#E4ECF6;"></div>
<div class="r" style="left:845.6px;top:59px;width:1.2px;height:49.8px;background:#E4ECF6;"></div>
<div class="r" style="left:917.8px;top:59px;width:1.2px;height:49.8px;background:#E4ECF6;"></div>
<div class="r" style="left:992.7px;top:59px;width:1.2px;height:49.8px;background:#E4ECF6;"></div>
<div class="r" style="left:548px;top:134.85px;width:37.5px;height:1px;background:#DEDEDE;"></div>
<div class="r" style="left:585.5px;top:134.85px;width:39.8px;height:1px;background:#DEDEDE;"></div>
<div class="r" style="left:625.3px;top:134.85px;width:74.2px;height:1px;background:#DEDEDE;"></div>
<div class="r" style="left:699.5px;top:134.85px;width:76.2px;height:1px;background:#DEDEDE;"></div>
<div class="r" style="left:846.2px;top:134.85px;width:72.2px;height:1px;background:#DEDEDE;"></div>
<div class="r" style="left:918.4px;top:134.85px;width:74.9px;height:1px;background:#DEDEDE;"></div>
<div class="r" style="left:993.3px;top:134.85px;width:71.7px;height:1px;background:#DEDEDE;"></div>
<div class="r" style="left:548px;top:160.48px;width:37.5px;height:1px;background:#DEDEDE;"></div>
<div class="r" style="left:585.5px;top:160.48px;width:39.8px;height:1px;background:#DEDEDE;"></div>
<div class="r" style="left:625.3px;top:160.48px;width:74.2px;height:1px;background:#DEDEDE;"></div>
<div class="r" style="left:699.5px;top:160.48px;width:76.2px;height:1px;background:#DEDEDE;"></div>
<div class="r" style="left:846.2px;top:160.48px;width:72.2px;height:1px;background:#DEDEDE;"></div>
<div class="r" style="left:918.4px;top:160.48px;width:74.9px;height:1px;background:#DEDEDE;"></div>
<div class="r" style="left:993.3px;top:160.48px;width:71.7px;height:1px;background:#DEDEDE;"></div>
<div class="r" style="left:548px;top:186.1px;width:37.5px;height:1px;background:#DEDEDE;"></div>
<div class="r" style="left:585.5px;top:186.1px;width:39.8px;height:1px;background:#DEDEDE;"></div>
<div class="r" style="left:625.3px;top:186.1px;width:74.2px;height:1px;background:#DEDEDE;"></div>
<div class="r" style="left:699.5px;top:186.1px;width:76.2px;height:1px;background:#DEDEDE;"></div>
<div class="r" style="left:846.2px;top:186.1px;width:72.2px;height:1px;background:#DEDEDE;"></div>
<div class="r" style="left:918.4px;top:186.1px;width:74.9px;height:1px;background:#DEDEDE;"></div>
<div class="r" style="left:993.3px;top:186.1px;width:71.7px;height:1px;background:#DEDEDE;"></div>
<div class="r" style="left:548px;top:211.73px;width:37.5px;height:1px;background:#DEDEDE;"></div>
<div class="r" style="left:585.5px;top:211.73px;width:39.8px;height:1px;background:#DEDEDE;"></div>
<div class="r" style="left:625.3px;top:211.73px;width:74.2px;height:1px;background:#DEDEDE;"></div>
<div class="r" style="left:699.5px;top:211.73px;width:76.2px;height:1px;background:#DEDEDE;"></div>
<div class="r" style="left:846.2px;top:211.73px;width:72.2px;height:1px;background:#DEDEDE;"></div>
<div class="r" style="left:918.4px;top:211.73px;width:74.9px;height:1px;background:#DEDEDE;"></div>
<div class="r" style="left:993.3px;top:211.73px;width:71.7px;height:1px;background:#DEDEDE;"></div>
<div class="r" style="left:548px;top:237.36px;width:37.5px;height:1px;background:#DEDEDE;"></div>
<div class="r" style="left:585.5px;top:237.36px;width:39.8px;height:1px;background:#DEDEDE;"></div>
<div class="r" style="left:625.3px;top:237.36px;width:74.2px;height:1px;background:#DEDEDE;"></div>
<div class="r" style="left:699.5px;top:237.36px;width:76.2px;height:1px;background:#DEDEDE;"></div>
<div class="r" style="left:846.2px;top:237.36px;width:72.2px;height:1px;background:#DEDEDE;"></div>
<div class="r" style="left:918.4px;top:237.36px;width:74.9px;height:1px;background:#DEDEDE;"></div>
<div class="r" style="left:993.3px;top:237.36px;width:71.7px;height:1px;background:#DEDEDE;"></div>
<div class="r" style="left:548px;top:262.99px;width:37.5px;height:1px;background:#DEDEDE;"></div>
<div class="r" style="left:585.5px;top:262.99px;width:39.8px;height:1px;background:#DEDEDE;"></div>
<div class="r" style="left:699.5px;top:262.99px;width:76.2px;height:1px;background:#DEDEDE;"></div>
<div class="r" style="left:846.2px;top:262.99px;width:72.2px;height:1px;background:#DEDEDE;"></div>
<div class="r" style="left:918.4px;top:262.99px;width:74.9px;height:1px;background:#DEDEDE;"></div>
<div class="r" style="left:993.3px;top:262.99px;width:71.7px;height:1px;background:#DEDEDE;"></div>
<div class="r" style="left:548px;top:288.62px;width:37.5px;height:1px;background:#DEDEDE;"></div>
<div class="r" style="left:585.5px;top:288.62px;width:39.8px;height:1px;background:#DEDEDE;"></div>
<div class="r" style="left:699.5px;top:288.62px;width:76.2px;height:1px;background:#DEDEDE;"></div>
<div class="r" style="left:846.2px;top:288.62px;width:72.2px;height:1px;background:#DEDEDE;"></div>
<div class="r" style="left:918.4px;top:288.62px;width:74.9px;height:1px;background:#DEDEDE;"></div>
<div class="r" style="left:993.3px;top:288.62px;width:71.7px;height:1px;background:#DEDEDE;"></div>
<div class="r" style="left:548px;top:314.24px;width:37.5px;height:1px;background:#DEDEDE;"></div>
<div class="r" style="left:585.5px;top:314.24px;width:39.8px;height:1px;background:#DEDEDE;"></div>
<div class="r" style="left:699.5px;top:314.24px;width:76.2px;height:1px;background:#DEDEDE;"></div>
<div class="r" style="left:846.2px;top:314.24px;width:72.2px;height:1px;background:#DEDEDE;"></div>
<div class="r" style="left:918.4px;top:314.24px;width:74.9px;height:1px;background:#DEDEDE;"></div>
<div class="r" style="left:993.3px;top:314.24px;width:71.7px;height:1px;background:#DEDEDE;"></div>
<div class="r" style="left:548px;top:339.87px;width:37.5px;height:1px;background:#DEDEDE;"></div>
<div class="r" style="left:585.5px;top:339.87px;width:39.8px;height:1px;background:#DEDEDE;"></div>
<div class="r" style="left:699.5px;top:339.87px;width:76.2px;height:1px;background:#DEDEDE;"></div>
<div class="r" style="left:846.2px;top:339.87px;width:72.2px;height:1px;background:#DEDEDE;"></div>
<div class="r" style="left:918.4px;top:339.87px;width:74.9px;height:1px;background:#DEDEDE;"></div>
<div class="r" style="left:993.3px;top:339.87px;width:71.7px;height:1px;background:#DEDEDE;"></div>
<div class="r" style="left:548px;top:365.5px;width:37.5px;height:1px;background:#DEDEDE;"></div>
<div class="r" style="left:585.5px;top:365.5px;width:39.8px;height:1px;background:#DEDEDE;"></div>
<div class="r" style="left:699.5px;top:365.5px;width:76.2px;height:1px;background:#DEDEDE;"></div>
<div class="r" style="left:846.2px;top:365.5px;width:72.2px;height:1px;background:#DEDEDE;"></div>
<div class="r" style="left:918.4px;top:365.5px;width:74.9px;height:1px;background:#DEDEDE;"></div>
<div class="r" style="left:993.3px;top:365.5px;width:71.7px;height:1px;background:#DEDEDE;"></div>
<div class="r" style="left:548px;top:391.13px;width:37.5px;height:1px;background:#DEDEDE;"></div>
<div class="r" style="left:585.5px;top:391.13px;width:39.8px;height:1px;background:#DEDEDE;"></div>
<div class="r" style="left:699.5px;top:391.13px;width:76.2px;height:1px;background:#DEDEDE;"></div>
<div class="r" style="left:846.2px;top:391.13px;width:72.2px;height:1px;background:#DEDEDE;"></div>
<div class="r" style="left:918.4px;top:391.13px;width:74.9px;height:1px;background:#DEDEDE;"></div>
<div class="r" style="left:993.3px;top:391.13px;width:71.7px;height:1px;background:#DEDEDE;"></div>
<div class="r" style="left:548px;top:416.76px;width:37.5px;height:1px;background:#DEDEDE;"></div>
<div class="r" style="left:585.5px;top:416.76px;width:39.8px;height:1px;background:#DEDEDE;"></div>
<div class="r" style="left:699.5px;top:416.76px;width:76.2px;height:1px;background:#DEDEDE;"></div>
<div class="r" style="left:846.2px;top:416.76px;width:72.2px;height:1px;background:#DEDEDE;"></div>
<div class="r" style="left:918.4px;top:416.76px;width:74.9px;height:1px;background:#DEDEDE;"></div>
<div class="r" style="left:993.3px;top:416.76px;width:71.7px;height:1px;background:#DEDEDE;"></div>
<div class="r" style="left:548px;top:442.38px;width:37.5px;height:1px;background:#DEDEDE;"></div>
<div class="r" style="left:585.5px;top:442.38px;width:39.8px;height:1px;background:#DEDEDE;"></div>
<div class="r" style="left:699.5px;top:442.38px;width:76.2px;height:1px;background:#DEDEDE;"></div>
<div class="r" style="left:846.2px;top:442.38px;width:72.2px;height:1px;background:#DEDEDE;"></div>
<div class="r" style="left:918.4px;top:442.38px;width:74.9px;height:1px;background:#DEDEDE;"></div>
<div class="r" style="left:993.3px;top:442.38px;width:71.7px;height:1px;background:#DEDEDE;"></div>
<div class="r" style="left:548px;top:468.01px;width:37.5px;height:1px;background:#DEDEDE;"></div>
<div class="r" style="left:585.5px;top:468.01px;width:39.8px;height:1px;background:#DEDEDE;"></div>
<div class="r" style="left:699.5px;top:468.01px;width:76.2px;height:1px;background:#DEDEDE;"></div>
<div class="r" style="left:846.2px;top:468.01px;width:72.2px;height:1px;background:#DEDEDE;"></div>
<div class="r" style="left:918.4px;top:468.01px;width:74.9px;height:1px;background:#DEDEDE;"></div>
<div class="r" style="left:993.3px;top:468.01px;width:71.7px;height:1px;background:#DEDEDE;"></div>
<div class="r" style="left:548px;top:493.64px;width:37.5px;height:1px;background:#DEDEDE;"></div>
<div class="r" style="left:585.5px;top:493.64px;width:39.8px;height:1px;background:#DEDEDE;"></div>
<div class="r" style="left:699.5px;top:493.64px;width:76.2px;height:1px;background:#DEDEDE;"></div>
<div class="r" style="left:846.2px;top:493.64px;width:72.2px;height:1px;background:#DEDEDE;"></div>
<div class="r" style="left:918.4px;top:493.64px;width:74.9px;height:1px;background:#DEDEDE;"></div>
<div class="r" style="left:993.3px;top:493.64px;width:71.7px;height:1px;background:#DEDEDE;"></div>
<div class="r" style="left:548px;top:519.27px;width:37.5px;height:1px;background:#DEDEDE;"></div>
<div class="r" style="left:585.5px;top:519.27px;width:39.8px;height:1px;background:#DEDEDE;"></div>
<div class="r" style="left:699.5px;top:519.27px;width:76.2px;height:1px;background:#DEDEDE;"></div>
<div class="r" style="left:846.2px;top:519.27px;width:72.2px;height:1px;background:#DEDEDE;"></div>
<div class="r" style="left:918.4px;top:519.27px;width:74.9px;height:1px;background:#DEDEDE;"></div>
<div class="r" style="left:993.3px;top:519.27px;width:71.7px;height:1px;background:#DEDEDE;"></div>
<div class="r" style="left:548px;top:544.9px;width:37.5px;height:1px;background:#DEDEDE;"></div>
<div class="r" style="left:585.5px;top:544.9px;width:39.8px;height:1px;background:#DEDEDE;"></div>
<div class="r" style="left:699.5px;top:544.9px;width:76.2px;height:1px;background:#DEDEDE;"></div>
<div class="r" style="left:846.2px;top:544.9px;width:72.2px;height:1px;background:#DEDEDE;"></div>
<div class="r" style="left:918.4px;top:544.9px;width:74.9px;height:1px;background:#DEDEDE;"></div>
<div class="r" style="left:993.3px;top:544.9px;width:71.7px;height:1px;background:#DEDEDE;"></div>
<div class="r" style="left:548px;top:570.52px;width:37.5px;height:1px;background:#DEDEDE;"></div>
<div class="r" style="left:585.5px;top:570.52px;width:39.8px;height:1px;background:#DEDEDE;"></div>
<div class="r" style="left:699.5px;top:570.52px;width:76.2px;height:1px;background:#DEDEDE;"></div>
<div class="r" style="left:846.2px;top:570.52px;width:72.2px;height:1px;background:#DEDEDE;"></div>
<div class="r" style="left:918.4px;top:570.52px;width:74.9px;height:1px;background:#DEDEDE;"></div>
<div class="r" style="left:993.3px;top:570.52px;width:71.7px;height:1px;background:#DEDEDE;"></div>
<div class="r" style="left:548px;top:596.15px;width:37.5px;height:1px;background:#DEDEDE;"></div>
<div class="r" style="left:585.5px;top:596.15px;width:39.8px;height:1px;background:#DEDEDE;"></div>
<div class="r" style="left:699.5px;top:596.15px;width:76.2px;height:1px;background:#DEDEDE;"></div>
<div class="r" style="left:775.7px;top:596.15px;width:70.5px;height:1px;background:#DEDEDE;"></div>
<div class="r" style="left:846.2px;top:596.15px;width:72.2px;height:1px;background:#DEDEDE;"></div>
<div class="r" style="left:918.4px;top:596.15px;width:74.9px;height:1px;background:#DEDEDE;"></div>
<div class="r" style="left:993.3px;top:596.15px;width:71.7px;height:1px;background:#DEDEDE;"></div>
<div class="r" style="left:548px;top:621.78px;width:37.5px;height:1px;background:#DEDEDE;"></div>
<div class="r" style="left:585.5px;top:621.78px;width:39.8px;height:1px;background:#DEDEDE;"></div>
<div class="r" style="left:699.5px;top:621.78px;width:76.2px;height:1px;background:#DEDEDE;"></div>
<div class="r" style="left:775.7px;top:621.78px;width:70.5px;height:1px;background:#DEDEDE;"></div>
<div class="r" style="left:846.2px;top:621.78px;width:72.2px;height:1px;background:#DEDEDE;"></div>
<div class="r" style="left:918.4px;top:621.78px;width:74.9px;height:1px;background:#DEDEDE;"></div>
<div class="r" style="left:993.3px;top:621.78px;width:71.7px;height:1px;background:#DEDEDE;"></div>
<div class="r" style="left:548px;top:647.41px;width:37.5px;height:1px;background:#DEDEDE;"></div>
<div class="r" style="left:585.5px;top:647.41px;width:39.8px;height:1px;background:#DEDEDE;"></div>
<div class="r" style="left:699.5px;top:647.41px;width:76.2px;height:1px;background:#DEDEDE;"></div>
<div class="r" style="left:775.7px;top:647.41px;width:70.5px;height:1px;background:#DEDEDE;"></div>
<div class="r" style="left:846.2px;top:647.41px;width:72.2px;height:1px;background:#DEDEDE;"></div>
<div class="r" style="left:918.4px;top:647.41px;width:74.9px;height:1px;background:#DEDEDE;"></div>
<div class="r" style="left:993.3px;top:647.41px;width:71.7px;height:1px;background:#DEDEDE;"></div>
<div class="r" style="left:548px;top:673.04px;width:37.5px;height:1px;background:#DEDEDE;"></div>
<div class="r" style="left:585.5px;top:673.04px;width:39.8px;height:1px;background:#DEDEDE;"></div>
<div class="r" style="left:699.5px;top:673.04px;width:76.2px;height:1px;background:#DEDEDE;"></div>
<div class="r" style="left:775.7px;top:673.04px;width:70.5px;height:1px;background:#DEDEDE;"></div>
<div class="r" style="left:846.2px;top:673.04px;width:72.2px;height:1px;background:#DEDEDE;"></div>
<div class="r" style="left:918.4px;top:673.04px;width:74.9px;height:1px;background:#DEDEDE;"></div>
<div class="r" style="left:993.3px;top:673.04px;width:71.7px;height:1px;background:#DEDEDE;"></div>
<div class="r" style="left:548px;top:698.66px;width:37.5px;height:1px;background:#DEDEDE;"></div>
<div class="r" style="left:585.5px;top:698.66px;width:39.8px;height:1px;background:#DEDEDE;"></div>
<div class="r" style="left:699.5px;top:698.66px;width:76.2px;height:1px;background:#DEDEDE;"></div>
<div class="r" style="left:775.7px;top:698.66px;width:70.5px;height:1px;background:#DEDEDE;"></div>
<div class="r" style="left:846.2px;top:698.66px;width:72.2px;height:1px;background:#DEDEDE;"></div>
<div class="r" style="left:918.4px;top:698.66px;width:74.9px;height:1px;background:#DEDEDE;"></div>
<div class="r" style="left:993.3px;top:698.66px;width:71.7px;height:1px;background:#DEDEDE;"></div>
<div class="r" style="left:548px;top:724.29px;width:37.5px;height:1px;background:#DEDEDE;"></div>
<div class="r" style="left:585.5px;top:724.29px;width:39.8px;height:1px;background:#DEDEDE;"></div>
<div class="r" style="left:699.5px;top:724.29px;width:76.2px;height:1px;background:#DEDEDE;"></div>
<div class="r" style="left:775.7px;top:724.29px;width:70.5px;height:1px;background:#DEDEDE;"></div>
<div class="r" style="left:846.2px;top:724.29px;width:72.2px;height:1px;background:#DEDEDE;"></div>
<div class="r" style="left:918.4px;top:724.29px;width:74.9px;height:1px;background:#DEDEDE;"></div>
<div class="r" style="left:993.3px;top:724.29px;width:71.7px;height:1px;background:#DEDEDE;"></div>
<div class="r" style="left:548px;top:749.92px;width:37.5px;height:1px;background:#DEDEDE;"></div>
<div class="r" style="left:585.5px;top:749.92px;width:39.8px;height:1px;background:#DEDEDE;"></div>
<div class="r" style="left:699.5px;top:749.92px;width:76.2px;height:1px;background:#DEDEDE;"></div>
<div class="r" style="left:775.7px;top:749.92px;width:70.5px;height:1px;background:#DEDEDE;"></div>
<div class="r" style="left:846.2px;top:749.92px;width:72.2px;height:1px;background:#DEDEDE;"></div>
<div class="r" style="left:918.4px;top:749.92px;width:74.9px;height:1px;background:#DEDEDE;"></div>
<div class="r" style="left:993.3px;top:749.92px;width:71.7px;height:1px;background:#DEDEDE;"></div>
<div class="r" style="left:548px;top:775.55px;width:37.5px;height:1px;background:#DEDEDE;"></div>
<div class="r" style="left:585.5px;top:775.55px;width:39.8px;height:1px;background:#DEDEDE;"></div>
<div class="r" style="left:699.5px;top:775.55px;width:76.2px;height:1px;background:#DEDEDE;"></div>
<div class="r" style="left:775.7px;top:775.55px;width:70.5px;height:1px;background:#DEDEDE;"></div>
<div class="r" style="left:846.2px;top:775.55px;width:72.2px;height:1px;background:#DEDEDE;"></div>
<div class="r" style="left:918.4px;top:775.55px;width:74.9px;height:1px;background:#DEDEDE;"></div>
<div class="r" style="left:993.3px;top:775.55px;width:71.7px;height:1px;background:#DEDEDE;"></div>
<div class="r" style="left:548px;top:801.18px;width:37.5px;height:1px;background:#DEDEDE;"></div>
<div class="r" style="left:585.5px;top:801.18px;width:39.8px;height:1px;background:#DEDEDE;"></div>
<div class="r" style="left:699.5px;top:801.18px;width:76.2px;height:1px;background:#DEDEDE;"></div>
<div class="r" style="left:775.7px;top:801.18px;width:70.5px;height:1px;background:#DEDEDE;"></div>
<div class="r" style="left:846.2px;top:801.18px;width:72.2px;height:1px;background:#DEDEDE;"></div>
<div class="r" style="left:918.4px;top:801.18px;width:74.9px;height:1px;background:#DEDEDE;"></div>
<div class="r" style="left:993.3px;top:801.18px;width:71.7px;height:1px;background:#DEDEDE;"></div>
<div class="r" style="left:548px;top:826.8px;width:37.5px;height:1px;background:#DEDEDE;"></div>
<div class="r" style="left:585.5px;top:826.8px;width:39.8px;height:1px;background:#DEDEDE;"></div>
<div class="r" style="left:699.5px;top:826.8px;width:76.2px;height:1px;background:#DEDEDE;"></div>
<div class="r" style="left:775.7px;top:826.8px;width:70.5px;height:1px;background:#DEDEDE;"></div>
<div class="r" style="left:846.2px;top:826.8px;width:72.2px;height:1px;background:#DEDEDE;"></div>
<div class="r" style="left:918.4px;top:826.8px;width:74.9px;height:1px;background:#DEDEDE;"></div>
<div class="r" style="left:993.3px;top:826.8px;width:71.7px;height:1px;background:#DEDEDE;"></div>
<div class="r" style="left:548px;top:852.43px;width:37.5px;height:1px;background:#DEDEDE;"></div>
<div class="r" style="left:585.5px;top:852.43px;width:39.8px;height:1px;background:#DEDEDE;"></div>
<div class="r" style="left:699.5px;top:852.43px;width:76.2px;height:1px;background:#DEDEDE;"></div>
<div class="r" style="left:775.7px;top:852.43px;width:70.5px;height:1px;background:#DEDEDE;"></div>
<div class="r" style="left:846.2px;top:852.43px;width:72.2px;height:1px;background:#DEDEDE;"></div>
<div class="r" style="left:918.4px;top:852.43px;width:74.9px;height:1px;background:#DEDEDE;"></div>
<div class="r" style="left:993.3px;top:852.43px;width:71.7px;height:1px;background:#DEDEDE;"></div>
<div class="r" style="left:548px;top:878.06px;width:37.5px;height:1px;background:#DEDEDE;"></div>
<div class="r" style="left:585.5px;top:878.06px;width:39.8px;height:1px;background:#DEDEDE;"></div>
<div class="r" style="left:699.5px;top:878.06px;width:76.2px;height:1px;background:#DEDEDE;"></div>
<div class="r" style="left:775.7px;top:878.06px;width:70.5px;height:1px;background:#DEDEDE;"></div>
<div class="r" style="left:846.2px;top:878.06px;width:72.2px;height:1px;background:#DEDEDE;"></div>
<div class="r" style="left:918.4px;top:878.06px;width:74.9px;height:1px;background:#DEDEDE;"></div>
<div class="r" style="left:993.3px;top:878.06px;width:71.7px;height:1px;background:#DEDEDE;"></div>
<div class="r" style="left:548px;top:903.69px;width:37.5px;height:1px;background:#DEDEDE;"></div>
<div class="r" style="left:585.5px;top:903.69px;width:39.8px;height:1px;background:#DEDEDE;"></div>
<div class="r" style="left:699.5px;top:903.69px;width:76.2px;height:1px;background:#DEDEDE;"></div>
<div class="r" style="left:775.7px;top:903.69px;width:70.5px;height:1px;background:#DEDEDE;"></div>
<div class="r" style="left:846.2px;top:903.69px;width:72.2px;height:1px;background:#DEDEDE;"></div>
<div class="r" style="left:918.4px;top:903.69px;width:74.9px;height:1px;background:#DEDEDE;"></div>
<div class="r" style="left:993.3px;top:903.69px;width:71.7px;height:1px;background:#DEDEDE;"></div>
<div class="r" style="left:548px;top:929.32px;width:37.5px;height:1px;background:#DEDEDE;"></div>
<div class="r" style="left:585.5px;top:929.32px;width:39.8px;height:1px;background:#DEDEDE;"></div>
<div class="r" style="left:699.5px;top:929.32px;width:76.2px;height:1px;background:#DEDEDE;"></div>
<div class="r" style="left:775.7px;top:929.32px;width:70.5px;height:1px;background:#DEDEDE;"></div>
<div class="r" style="left:846.2px;top:929.32px;width:72.2px;height:1px;background:#DEDEDE;"></div>
<div class="r" style="left:918.4px;top:929.32px;width:74.9px;height:1px;background:#DEDEDE;"></div>
<div class="r" style="left:993.3px;top:929.32px;width:71.7px;height:1px;background:#DEDEDE;"></div>
<div class="r" style="left:548px;top:954.94px;width:37.5px;height:1px;background:#DEDEDE;"></div>
<div class="r" style="left:585.5px;top:954.94px;width:39.8px;height:1px;background:#DEDEDE;"></div>
<div class="r" style="left:699.5px;top:954.94px;width:76.2px;height:1px;background:#DEDEDE;"></div>
<div class="r" style="left:775.7px;top:954.94px;width:70.5px;height:1px;background:#DEDEDE;"></div>
<div class="r" style="left:846.2px;top:954.94px;width:72.2px;height:1px;background:#DEDEDE;"></div>
<div class="r" style="left:918.4px;top:954.94px;width:74.9px;height:1px;background:#DEDEDE;"></div>
<div class="r" style="left:993.3px;top:954.94px;width:71.7px;height:1px;background:#DEDEDE;"></div>
<div class="r" style="left:585px;top:108.8px;width:1px;height:872.27px;background:#E4E4E4;"></div>
<div class="r" style="left:624.8px;top:108.8px;width:1px;height:872.27px;background:#E4E4E4;"></div>
<div class="r" style="left:699px;top:108.8px;width:1px;height:872.27px;background:#E4E4E4;"></div>
<div class="r" style="left:775.2px;top:108.8px;width:1px;height:872.27px;background:#E4E4E4;"></div>
<div class="r" style="left:845.7px;top:108.8px;width:1px;height:872.27px;background:#E4E4E4;"></div>
<div class="r" style="left:917.9px;top:108.8px;width:1px;height:872.27px;background:#E4E4E4;"></div>
<div class="r" style="left:992.8px;top:108.8px;width:1px;height:872.27px;background:#E4E4E4;"></div>
<div class="r" style="left:549px;top:597.15px;width:75.8px;height:24.63px;background:#D7E6FB;"></div>
<div class="r" style="left:585px;top:597.15px;width:1px;height:24.63px;background:#D3E1F5;"></div>
<div class="r" style="left:700px;top:597.15px;width:364px;height:24.63px;background:#D7E6FB;"></div>
<div class="r" style="left:775.2px;top:597.15px;width:1px;height:24.63px;background:#D3E1F5;"></div>
<div class="r" style="left:845.7px;top:597.15px;width:1px;height:24.63px;background:#D3E1F5;"></div>
<div class="r" style="left:917.9px;top:597.15px;width:1px;height:24.63px;background:#D3E1F5;"></div>
<div class="r" style="left:992.8px;top:597.15px;width:1px;height:24.63px;background:#D3E1F5;"></div>
<div class="r" style="left:549px;top:725.29px;width:75.8px;height:24.63px;background:#D7E6FB;"></div>
<div class="r" style="left:585px;top:725.29px;width:1px;height:24.63px;background:#D3E1F5;"></div>
<div class="r" style="left:700px;top:725.29px;width:364px;height:24.63px;background:#D7E6FB;"></div>
<div class="r" style="left:775.2px;top:725.29px;width:1px;height:24.63px;background:#D3E1F5;"></div>
<div class="r" style="left:845.7px;top:725.29px;width:1px;height:24.63px;background:#D3E1F5;"></div>
<div class="r" style="left:917.9px;top:725.29px;width:1px;height:24.63px;background:#D3E1F5;"></div>
<div class="r" style="left:992.8px;top:725.29px;width:1px;height:24.63px;background:#D3E1F5;"></div>
<div class="r" style="left:549px;top:802.18px;width:75.8px;height:24.63px;background:#D7E6FB;"></div>
<div class="r" style="left:585px;top:802.18px;width:1px;height:24.63px;background:#D3E1F5;"></div>
<div class="r" style="left:700px;top:802.18px;width:364px;height:24.63px;background:#D7E6FB;"></div>
<div class="r" style="left:775.2px;top:802.18px;width:1px;height:24.63px;background:#D3E1F5;"></div>
<div class="r" style="left:845.7px;top:802.18px;width:1px;height:24.63px;background:#D3E1F5;"></div>
<div class="r" style="left:917.9px;top:802.18px;width:1px;height:24.63px;background:#D3E1F5;"></div>
<div class="r" style="left:992.8px;top:802.18px;width:1px;height:24.63px;background:#D3E1F5;"></div>
<div class="r" style="left:549px;top:853.43px;width:75.8px;height:24.63px;background:#D7E6FB;"></div>
<div class="r" style="left:585px;top:853.43px;width:1px;height:24.63px;background:#D3E1F5;"></div>
<div class="r" style="left:700px;top:853.43px;width:364px;height:24.63px;background:#D7E6FB;"></div>
<div class="r" style="left:775.2px;top:853.43px;width:1px;height:24.63px;background:#D3E1F5;"></div>
<div class="r" style="left:845.7px;top:853.43px;width:1px;height:24.63px;background:#D3E1F5;"></div>
<div class="r" style="left:917.9px;top:853.43px;width:1px;height:24.63px;background:#D3E1F5;"></div>
<div class="r" style="left:992.8px;top:853.43px;width:1px;height:24.63px;background:#D3E1F5;"></div>
<div class="r" style="left:549px;top:904.69px;width:75.8px;height:24.63px;background:#D7E6FB;"></div>
<div class="r" style="left:585px;top:904.69px;width:1px;height:24.63px;background:#D3E1F5;"></div>
<div class="r" style="left:700px;top:904.69px;width:364px;height:24.63px;background:#D7E6FB;"></div>
<div class="r" style="left:775.2px;top:904.69px;width:1px;height:24.63px;background:#D3E1F5;"></div>
<div class="r" style="left:845.7px;top:904.69px;width:1px;height:24.63px;background:#D3E1F5;"></div>
<div class="r" style="left:917.9px;top:904.69px;width:1px;height:24.63px;background:#D3E1F5;"></div>
<div class="r" style="left:992.8px;top:904.69px;width:1px;height:24.63px;background:#D3E1F5;"></div>
<div class="r" style="left:548px;top:108.8px;width:1px;height:872.27px;background:#E2E5EA;"></div>
<div class="r" style="left:1064px;top:108.8px;width:1px;height:872.27px;background:#E2E5EA;"></div>
<div class="r" style="left:548px;top:980.37px;width:517px;height:1px;background:#E2E5EA;"></div>
<div class="c" style="left:548px;top:111.62px;width:37.5px;height:25.67px;line-height:25.67px">1</div>
<div class="c" style="left:585.5px;top:111.62px;width:39.8px;height:25.67px;line-height:25.67px">41</div>
<div class="c" style="left:625.3px;top:111.62px;width:74.2px;height:25.67px;line-height:25.67px">100,000</div>
<div class="c" style="left:699.5px;top:111.62px;width:76.2px;height:25.67px;line-height:25.67px">40,888</div>
<div class="c" style="left:548px;top:137.25px;width:37.5px;height:25.67px;line-height:25.67px">2</div>
<div class="c" style="left:585.5px;top:137.25px;width:39.8px;height:25.67px;line-height:25.67px">42</div>
<div class="c" style="left:625.3px;top:137.25px;width:74.2px;height:25.67px;line-height:25.67px">100,000</div>
<div class="c" style="left:699.5px;top:137.25px;width:76.2px;height:25.67px;line-height:25.67px">91,062</div>
<div class="c" style="left:548px;top:162.88px;width:37.5px;height:25.67px;line-height:25.67px">3</div>
<div class="c" style="left:585.5px;top:162.88px;width:39.8px;height:25.67px;line-height:25.67px">43</div>
<div class="c" style="left:625.3px;top:162.88px;width:74.2px;height:25.67px;line-height:25.67px">100,000</div>
<div class="c" style="left:699.5px;top:162.88px;width:76.2px;height:25.67px;line-height:25.67px">148,238</div>
<div class="c" style="left:548px;top:188.5px;width:37.5px;height:25.67px;line-height:25.67px">4</div>
<div class="c" style="left:585.5px;top:188.5px;width:39.8px;height:25.67px;line-height:25.67px">44</div>
<div class="c" style="left:625.3px;top:188.5px;width:74.2px;height:25.67px;line-height:25.67px">100,000</div>
<div class="c" style="left:699.5px;top:188.5px;width:76.2px;height:25.67px;line-height:25.67px">212,907</div>
<div class="c" style="left:548px;top:214.13px;width:37.5px;height:25.67px;line-height:25.67px">5</div>
<div class="c" style="left:585.5px;top:214.13px;width:39.8px;height:25.67px;line-height:25.67px">45</div>
<div class="c" style="left:625.3px;top:214.13px;width:74.2px;height:25.67px;line-height:25.67px">100,000</div>
<div class="c" style="left:699.5px;top:214.13px;width:76.2px;height:25.67px;line-height:25.67px">282,405</div>
<div class="c" style="left:548px;top:239.76px;width:37.5px;height:25.67px;line-height:25.67px">6</div>
<div class="c" style="left:585.5px;top:239.76px;width:39.8px;height:25.67px;line-height:25.67px">46</div>
<div class="c" style="left:699.5px;top:239.76px;width:76.2px;height:25.67px;line-height:25.67px">292,816</div>
<div class="c" style="left:548px;top:265.39px;width:37.5px;height:25.67px;line-height:25.67px">7</div>
<div class="c" style="left:585.5px;top:265.39px;width:39.8px;height:25.67px;line-height:25.67px">47</div>
<div class="c" style="left:699.5px;top:265.39px;width:76.2px;height:25.67px;line-height:25.67px">303,611</div>
<div class="c" style="left:548px;top:291.02px;width:37.5px;height:25.67px;line-height:25.67px">8</div>
<div class="c" style="left:585.5px;top:291.02px;width:39.8px;height:25.67px;line-height:25.67px">48</div>
<div class="c" style="left:699.5px;top:291.02px;width:76.2px;height:25.67px;line-height:25.67px">314,807</div>
<div class="c" style="left:548px;top:316.64px;width:37.5px;height:25.67px;line-height:25.67px">9</div>
<div class="c" style="left:585.5px;top:316.64px;width:39.8px;height:25.67px;line-height:25.67px">49</div>
<div class="c" style="left:699.5px;top:316.64px;width:76.2px;height:25.67px;line-height:25.67px">326,419</div>
<div class="c" style="left:548px;top:342.27px;width:37.5px;height:25.67px;line-height:25.67px">10</div>
<div class="c" style="left:585.5px;top:342.27px;width:39.8px;height:25.67px;line-height:25.67px">50</div>
<div class="c" style="left:699.5px;top:342.27px;width:76.2px;height:25.67px;line-height:25.67px">338,465</div>
<div class="c" style="left:548px;top:367.9px;width:37.5px;height:25.67px;line-height:25.67px">11</div>
<div class="c" style="left:585.5px;top:367.9px;width:39.8px;height:25.67px;line-height:25.67px">51</div>
<div class="c" style="left:699.5px;top:367.9px;width:76.2px;height:25.67px;line-height:25.67px">350,962</div>
<div class="c" style="left:548px;top:393.53px;width:37.5px;height:25.67px;line-height:25.67px">12</div>
<div class="c" style="left:585.5px;top:393.53px;width:39.8px;height:25.67px;line-height:25.67px">52</div>
<div class="c" style="left:699.5px;top:393.53px;width:76.2px;height:25.67px;line-height:25.67px">363,928</div>
<div class="c" style="left:548px;top:419.16px;width:37.5px;height:25.67px;line-height:25.67px">13</div>
<div class="c" style="left:585.5px;top:419.16px;width:39.8px;height:25.67px;line-height:25.67px">53</div>
<div class="c" style="left:699.5px;top:419.16px;width:76.2px;height:25.67px;line-height:25.67px">377,383</div>
<div class="c" style="left:548px;top:444.78px;width:37.5px;height:25.67px;line-height:25.67px">14</div>
<div class="c" style="left:585.5px;top:444.78px;width:39.8px;height:25.67px;line-height:25.67px">54</div>
<div class="c" style="left:699.5px;top:444.78px;width:76.2px;height:25.67px;line-height:25.67px">391,348</div>
<div class="c" style="left:548px;top:470.41px;width:37.5px;height:25.67px;line-height:25.67px">15</div>
<div class="c" style="left:585.5px;top:470.41px;width:39.8px;height:25.67px;line-height:25.67px">55</div>
<div class="c" style="left:699.5px;top:470.41px;width:76.2px;height:25.67px;line-height:25.67px">405,845</div>
<div class="c" style="left:548px;top:496.04px;width:37.5px;height:25.67px;line-height:25.67px">16</div>
<div class="c" style="left:585.5px;top:496.04px;width:39.8px;height:25.67px;line-height:25.67px">56</div>
<div class="c" style="left:699.5px;top:496.04px;width:76.2px;height:25.67px;line-height:25.67px">420,898</div>
<div class="c" style="left:993.3px;top:496.04px;width:71.7px;height:25.67px;line-height:25.67px">0.28%</div>
<div class="c" style="left:548px;top:521.67px;width:37.5px;height:25.67px;line-height:25.67px">17</div>
<div class="c" style="left:585.5px;top:521.67px;width:39.8px;height:25.67px;line-height:25.67px">57</div>
<div class="c" style="left:699.5px;top:521.67px;width:76.2px;height:25.67px;line-height:25.67px">436,532</div>
<div class="c" style="left:993.3px;top:521.67px;width:71.7px;height:25.67px;line-height:25.67px">0.60%</div>
<div class="c" style="left:548px;top:547.3px;width:37.5px;height:25.67px;line-height:25.67px">18</div>
<div class="c" style="left:585.5px;top:547.3px;width:39.8px;height:25.67px;line-height:25.67px">58</div>
<div class="c" style="left:699.5px;top:547.3px;width:76.2px;height:25.67px;line-height:25.67px">452,774</div>
<div class="c" style="left:993.3px;top:547.3px;width:71.7px;height:25.67px;line-height:25.67px">0.89%</div>
<div class="c" style="left:548px;top:572.92px;width:37.5px;height:25.67px;line-height:25.67px">19</div>
<div class="c" style="left:585.5px;top:572.92px;width:39.8px;height:25.67px;line-height:25.67px">59</div>
<div class="c" style="left:699.5px;top:572.92px;width:76.2px;height:25.67px;line-height:25.67px">469,655</div>
<div class="c" style="left:993.3px;top:572.92px;width:71.7px;height:25.67px;line-height:25.67px">1.14%</div>
<div class="c" style="left:548px;top:598.55px;width:37.5px;height:25.67px;line-height:25.67px">20</div>
<div class="c" style="left:585.5px;top:598.55px;width:39.8px;height:25.67px;line-height:25.67px">60</div>
<div class="c" style="left:699.5px;top:598.55px;width:76.2px;height:25.67px;line-height:25.67px">460,415</div>
<div class="c" style="left:775.7px;top:598.55px;width:70.5px;height:25.67px;line-height:25.67px">26,792</div>
<div class="c" style="left:918.4px;top:598.55px;width:74.9px;height:25.67px;line-height:25.67px">35,108</div>
<div class="c" style="left:993.3px;top:598.55px;width:71.7px;height:25.67px;line-height:25.67px">1.37%</div>
<div class="c" style="left:548px;top:624.18px;width:37.5px;height:25.67px;line-height:25.67px">21</div>
<div class="c" style="left:585.5px;top:624.18px;width:39.8px;height:25.67px;line-height:25.67px">61</div>
<div class="c" style="left:699.5px;top:624.18px;width:76.2px;height:25.67px;line-height:25.67px">450,875</div>
<div class="c" style="left:775.7px;top:624.18px;width:70.5px;height:25.67px;line-height:25.67px">26,792</div>
<div class="c" style="left:846.2px;top:624.18px;width:72.2px;height:25.67px;line-height:25.67px">0.05%</div>
<div class="c" style="left:918.4px;top:624.18px;width:74.9px;height:25.67px;line-height:25.67px">35,688</div>
<div class="c" style="left:993.3px;top:624.18px;width:71.7px;height:25.67px;line-height:25.67px">1.56%</div>
<div class="c" style="left:548px;top:649.81px;width:37.5px;height:25.67px;line-height:25.67px">22</div>
<div class="c" style="left:585.5px;top:649.81px;width:39.8px;height:25.67px;line-height:25.67px">62</div>
<div class="c" style="left:699.5px;top:649.81px;width:76.2px;height:25.67px;line-height:25.67px">441,035</div>
<div class="c" style="left:775.7px;top:649.81px;width:70.5px;height:25.67px;line-height:25.67px">26,792</div>
<div class="c" style="left:846.2px;top:649.81px;width:72.2px;height:25.67px;line-height:25.67px">0.21%</div>
<div class="c" style="left:918.4px;top:649.81px;width:74.9px;height:25.67px;line-height:25.67px">36,279</div>
<div class="c" style="left:993.3px;top:649.81px;width:71.7px;height:25.67px;line-height:25.67px">1.73%</div>
<div class="c" style="left:548px;top:675.44px;width:37.5px;height:25.67px;line-height:25.67px">23</div>
<div class="c" style="left:585.5px;top:675.44px;width:39.8px;height:25.67px;line-height:25.67px">63</div>
<div class="c" style="left:699.5px;top:675.44px;width:76.2px;height:25.67px;line-height:25.67px">430,894</div>
<div class="c" style="left:775.7px;top:675.44px;width:70.5px;height:25.67px;line-height:25.67px">26,792</div>
<div class="c" style="left:846.2px;top:675.44px;width:72.2px;height:25.67px;line-height:25.67px">0.35%</div>
<div class="c" style="left:918.4px;top:675.44px;width:74.9px;height:25.67px;line-height:25.67px">36,880</div>
<div class="c" style="left:993.3px;top:675.44px;width:71.7px;height:25.67px;line-height:25.67px">1.88%</div>
<div class="c" style="left:548px;top:701.06px;width:37.5px;height:25.67px;line-height:25.67px">24</div>
<div class="c" style="left:585.5px;top:701.06px;width:39.8px;height:25.67px;line-height:25.67px">64</div>
<div class="c" style="left:699.5px;top:701.06px;width:76.2px;height:25.67px;line-height:25.67px">420,453</div>
<div class="c" style="left:775.7px;top:701.06px;width:70.5px;height:25.67px;line-height:25.67px">26,792</div>
<div class="c" style="left:846.2px;top:701.06px;width:72.2px;height:25.67px;line-height:25.67px">0.48%</div>
<div class="c" style="left:918.4px;top:701.06px;width:74.9px;height:25.67px;line-height:25.67px">37,492</div>
<div class="c" style="left:993.3px;top:701.06px;width:71.7px;height:25.67px;line-height:25.67px">2.01%</div>
<div class="c" style="left:548px;top:726.69px;width:37.5px;height:25.67px;line-height:25.67px">25</div>
<div class="c" style="left:585.5px;top:726.69px;width:39.8px;height:25.67px;line-height:25.67px">65</div>
<div class="c" style="left:699.5px;top:726.69px;width:76.2px;height:25.67px;line-height:25.67px">409,715</div>
<div class="c" style="left:775.7px;top:726.69px;width:70.5px;height:25.67px;line-height:25.67px">26,792</div>
<div class="c" style="left:846.2px;top:726.69px;width:72.2px;height:25.67px;line-height:25.67px">0.59%</div>
<div class="c" style="left:918.4px;top:726.69px;width:74.9px;height:25.67px;line-height:25.67px">38,116</div>
<div class="c" style="left:993.3px;top:726.69px;width:71.7px;height:25.67px;line-height:25.67px">2.13%</div>
<div class="c" style="left:548px;top:752.32px;width:37.5px;height:25.67px;line-height:25.67px">30</div>
<div class="c" style="left:585.5px;top:752.32px;width:39.8px;height:25.67px;line-height:25.67px">70</div>
<div class="c" style="left:699.5px;top:752.32px;width:76.2px;height:25.67px;line-height:25.67px">351,931</div>
<div class="c" style="left:775.7px;top:752.32px;width:70.5px;height:25.67px;line-height:25.67px">26,792</div>
<div class="c" style="left:846.2px;top:752.32px;width:72.2px;height:25.67px;line-height:25.67px">1.01%</div>
<div class="c" style="left:918.4px;top:752.32px;width:74.9px;height:25.67px;line-height:25.67px">41,414</div>
<div class="c" style="left:993.3px;top:752.32px;width:71.7px;height:25.67px;line-height:25.67px">2.56%</div>
<div class="c" style="left:548px;top:777.95px;width:37.5px;height:25.67px;line-height:25.67px">35</div>
<div class="c" style="left:585.5px;top:777.95px;width:39.8px;height:25.67px;line-height:25.67px">75</div>
<div class="c" style="left:699.5px;top:777.95px;width:76.2px;height:25.67px;line-height:25.67px">289,895</div>
<div class="c" style="left:775.7px;top:777.95px;width:70.5px;height:25.67px;line-height:25.67px">26,792</div>
<div class="c" style="left:846.2px;top:777.95px;width:72.2px;height:25.67px;line-height:25.67px">1.29%</div>
<div class="c" style="left:918.4px;top:777.95px;width:74.9px;height:25.67px;line-height:25.67px">45,048</div>
<div class="c" style="left:993.3px;top:777.95px;width:71.7px;height:25.67px;line-height:25.67px">2.86%</div>
<div class="c" style="left:548px;top:803.58px;width:37.5px;height:25.67px;line-height:25.67px">40</div>
<div class="c" style="left:585.5px;top:803.58px;width:39.8px;height:25.67px;line-height:25.67px">80</div>
<div class="c" style="left:699.5px;top:803.58px;width:76.2px;height:25.67px;line-height:25.67px">234,698</div>
<div class="c" style="left:775.7px;top:803.58px;width:70.5px;height:25.67px;line-height:25.67px">26,792</div>
<div class="c" style="left:846.2px;top:803.58px;width:72.2px;height:25.67px;line-height:25.67px">1.54%</div>
<div class="c" style="left:918.4px;top:803.58px;width:74.9px;height:25.67px;line-height:25.67px">49,098</div>
<div class="c" style="left:993.3px;top:803.58px;width:71.7px;height:25.67px;line-height:25.67px">3.11%</div>
<div class="c" style="left:548px;top:829.2px;width:37.5px;height:25.67px;line-height:25.67px">45</div>
<div class="c" style="left:585.5px;top:829.2px;width:39.8px;height:25.67px;line-height:25.67px">85</div>
<div class="c" style="left:699.5px;top:829.2px;width:76.2px;height:25.67px;line-height:25.67px">196,508</div>
<div class="c" style="left:775.7px;top:829.2px;width:70.5px;height:25.67px;line-height:25.67px">26,792</div>
<div class="c" style="left:846.2px;top:829.2px;width:72.2px;height:25.67px;line-height:25.67px">1.79%</div>
<div class="c" style="left:918.4px;top:829.2px;width:74.9px;height:25.67px;line-height:25.67px">53,710</div>
<div class="c" style="left:993.3px;top:829.2px;width:71.7px;height:25.67px;line-height:25.67px">3.36%</div>
<div class="c" style="left:548px;top:854.83px;width:37.5px;height:25.67px;line-height:25.67px">50</div>
<div class="c" style="left:585.5px;top:854.83px;width:39.8px;height:25.67px;line-height:25.67px">90</div>
<div class="c" style="left:699.5px;top:854.83px;width:76.2px;height:25.67px;line-height:25.67px">188,164</div>
<div class="c" style="left:775.7px;top:854.83px;width:70.5px;height:25.67px;line-height:25.67px">26,792</div>
<div class="c" style="left:846.2px;top:854.83px;width:72.2px;height:25.67px;line-height:25.67px">2.07%</div>
<div class="c" style="left:918.4px;top:854.83px;width:74.9px;height:25.67px;line-height:25.67px">59,198</div>
<div class="c" style="left:993.3px;top:854.83px;width:71.7px;height:25.67px;line-height:25.67px">3.62%</div>
<div class="c" style="left:548px;top:880.46px;width:37.5px;height:25.67px;line-height:25.67px">55</div>
<div class="c" style="left:585.5px;top:880.46px;width:39.8px;height:25.67px;line-height:25.67px">95</div>
<div class="c" style="left:699.5px;top:880.46px;width:76.2px;height:25.67px;line-height:25.67px">0</div>
<div class="c" style="left:775.7px;top:880.46px;width:70.5px;height:25.67px;line-height:25.67px">26,792</div>
<div class="c" style="left:846.2px;top:880.46px;width:72.2px;height:25.67px;line-height:25.67px">1.92%</div>
<div class="c" style="left:918.4px;top:880.46px;width:74.9px;height:25.67px;line-height:25.67px">66,464</div>
<div class="c" style="left:993.3px;top:880.46px;width:71.7px;height:25.67px;line-height:25.67px">3.56%</div>
<div class="c" style="left:548px;top:906.09px;width:37.5px;height:25.67px;line-height:25.67px">60</div>
<div class="c" style="left:585.5px;top:906.09px;width:39.8px;height:25.67px;line-height:25.67px">100</div>
<div class="c" style="left:699.5px;top:906.09px;width:76.2px;height:25.67px;line-height:25.67px">0</div>
<div class="c" style="left:775.7px;top:906.09px;width:70.5px;height:25.67px;line-height:25.67px">26,792</div>
<div class="c" style="left:846.2px;top:906.09px;width:72.2px;height:25.67px;line-height:25.67px">2.85%</div>
<div class="c" style="left:918.4px;top:906.09px;width:74.9px;height:25.67px;line-height:25.67px">79,311</div>
<div class="c" style="left:993.3px;top:906.09px;width:71.7px;height:25.67px;line-height:25.67px">4.15%</div>
<div class="c" style="left:548px;top:931.72px;width:37.5px;height:25.67px;line-height:25.67px">65</div>
<div class="c" style="left:585.5px;top:931.72px;width:39.8px;height:25.67px;line-height:25.67px">105</div>
<div class="c" style="left:699.5px;top:931.72px;width:76.2px;height:25.67px;line-height:25.67px">0</div>
<div class="c" style="left:775.7px;top:931.72px;width:70.5px;height:25.67px;line-height:25.67px">26,792</div>
<div class="c" style="left:846.2px;top:931.72px;width:72.2px;height:25.67px;line-height:25.67px">2.97%</div>
<div class="c" style="left:918.4px;top:931.72px;width:74.9px;height:25.67px;line-height:25.67px">87,566</div>
<div class="c" style="left:993.3px;top:931.72px;width:71.7px;height:25.67px;line-height:25.67px">4.33%</div>
<div class="c" style="left:548px;top:957.34px;width:37.5px;height:25.67px;line-height:25.67px">66</div>
<div class="c" style="left:585.5px;top:957.34px;width:39.8px;height:25.67px;line-height:25.67px">106</div>
<div class="c" style="left:699.5px;top:957.34px;width:76.2px;height:25.67px;line-height:25.67px">0</div>
<div class="c" style="left:775.7px;top:957.34px;width:70.5px;height:25.67px;line-height:25.67px">267,920</div>
<div class="c" style="left:846.2px;top:957.34px;width:72.2px;height:25.67px;line-height:25.67px">3.17%</div>
<div class="c" style="left:918.4px;top:957.34px;width:74.9px;height:25.67px;line-height:25.67px">875,660</div>
<div class="c" style="left:993.3px;top:957.34px;width:71.7px;height:25.67px;line-height:25.67px">4.61%</div>
<div class="v" style="left:625.3px;top:288.3px;width:74.2px;line-height:30.7px;font-size:18px">不<br>再<br>缴<br>费</div>
<div class="v" style="left:625.3px;top:462.5px;width:74.2px;line-height:30.7px;font-size:18px">长<br>期<br>收<br>益</div>
<div class="v" style="left:625.3px;top:635.65px;width:74.2px;line-height:30.7px;font-size:18px">安<br>全<br>稳<br>健</div>
<div class="v" style="left:625.3px;top:809.05px;width:74.2px;line-height:30.7px;font-size:18px">条<br>款<br>明<br>确</div>
<div class="v" style="left:775.7px;top:188px;width:70.5px;line-height:25.47px;font-size:16.5px">每<br>一<br>笔<br>投<br>入<br>都<br>是<br>对<br>未<br>来<br>的<br>储<br>蓄</div>
<div class="ic" style="left:14px;top:1001px"><span>!</span></div>
<div class="fn" style="left:37.9px;top:1001px">以上数字仅供参考，具体应以条款及保险合同为准。</div>
<div class="ic" style="left:549px;top:1001px"><span>!</span></div>
<div class="fn" style="left:572.9px;top:1001px">以上数字仅供参考，具体应以条款及保险合同为准。</div>
<svg class="wm" style="left:750px;top:970px" width="48" height="38" viewBox="0 0 48 38">
<g opacity="0.6">
<path d="M17.4 3 C9.2 3 2.8 8.6 2.8 15.2 C2.8 19 4.8 22.3 8 24.6 L6.8 29 L12.2 26.4 C13.9 26.9 15.6 27.2 17.4 27.2 C25.6 27.2 32 21.8 32 15.2 C32 8.6 25.6 3 17.4 3 Z" fill="#7d7d7d"/>
<path d="M31.3 14 C24.3 14 18.6 18.5 18.6 24 C18.6 29.5 24.3 34 31.3 34 C32.8 34 34.2 33.8 35.5 33.4 L40.5 35.8 L39.4 31.6 C42.2 29.8 44 27.1 44 24 C44 18.5 38.3 14 31.3 14 Z" fill="#7d7d7d" stroke="#fff" stroke-width="1.3"/>
<circle cx="12.7" cy="11.7" r="1.75" fill="#fff"/><circle cx="22.6" cy="11.7" r="1.75" fill="#fff"/>
<circle cx="27.4" cy="21.6" r="1.7" fill="#fff"/><circle cx="35.8" cy="21.6" r="1.7" fill="#fff"/>
</g>
</svg>
<div class="wt" style="left:800.6px;top:969px;letter-spacing:3px">公众号</div>
<div class="wt" style="left:903.2px;top:976.5px;font-size:30px;line-height:24px;font-family:'Liberation Sans',sans-serif;font-weight:400">·</div>
<div class="wt" style="left:925.6px;top:969px">读财小生</div>
</body></html>
